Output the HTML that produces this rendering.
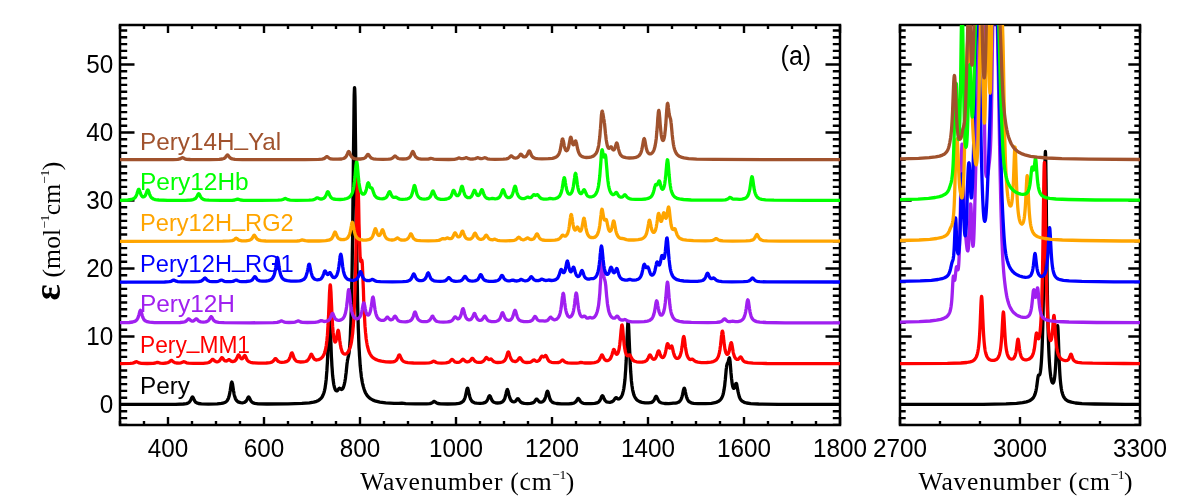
<!DOCTYPE html>
<html><head><meta charset="utf-8"><title>spectra</title>
<style>html,body{margin:0;padding:0;background:#fff}svg{display:block}#w{width:1200px;height:500px;will-change:transform;transform:translateZ(0)}text{font-family:"Liberation Sans",sans-serif;fill:#000}.ser{font-family:"Liberation Serif",serif}</style></head><body>
<div id="w"><svg width="1200" height="500" viewBox="0 0 1200 500">
<defs><clipPath id="cl"><rect x="120" y="25" width="720" height="400"/></clipPath><clipPath id="cr"><rect x="900" y="25" width="240" height="400"/></clipPath></defs>
<path d="M120.00 424.90 L127.20 424.90 M840.00 424.90 L832.80 424.90 M120.00 418.10 L127.20 418.10 M840.00 418.10 L832.80 418.10 M120.00 411.30 L127.20 411.30 M840.00 411.30 L832.80 411.30 M120.00 404.50 L134.50 404.50 M840.00 404.50 L825.50 404.50 M120.00 397.70 L127.20 397.70 M840.00 397.70 L832.80 397.70 M120.00 390.90 L127.20 390.90 M840.00 390.90 L832.80 390.90 M120.00 384.10 L127.20 384.10 M840.00 384.10 L832.80 384.10 M120.00 377.30 L127.20 377.30 M840.00 377.30 L832.80 377.30 M120.00 370.50 L127.20 370.50 M840.00 370.50 L832.80 370.50 M120.00 363.70 L127.20 363.70 M840.00 363.70 L832.80 363.70 M120.00 356.90 L127.20 356.90 M840.00 356.90 L832.80 356.90 M120.00 350.10 L127.20 350.10 M840.00 350.10 L832.80 350.10 M120.00 343.30 L127.20 343.30 M840.00 343.30 L832.80 343.30 M120.00 336.50 L134.50 336.50 M840.00 336.50 L825.50 336.50 M120.00 329.70 L127.20 329.70 M840.00 329.70 L832.80 329.70 M120.00 322.90 L127.20 322.90 M840.00 322.90 L832.80 322.90 M120.00 316.10 L127.20 316.10 M840.00 316.10 L832.80 316.10 M120.00 309.30 L127.20 309.30 M840.00 309.30 L832.80 309.30 M120.00 302.50 L127.20 302.50 M840.00 302.50 L832.80 302.50 M120.00 295.70 L127.20 295.70 M840.00 295.70 L832.80 295.70 M120.00 288.90 L127.20 288.90 M840.00 288.90 L832.80 288.90 M120.00 282.10 L127.20 282.10 M840.00 282.10 L832.80 282.10 M120.00 275.30 L127.20 275.30 M840.00 275.30 L832.80 275.30 M120.00 268.50 L134.50 268.50 M840.00 268.50 L825.50 268.50 M120.00 261.70 L127.20 261.70 M840.00 261.70 L832.80 261.70 M120.00 254.90 L127.20 254.90 M840.00 254.90 L832.80 254.90 M120.00 248.10 L127.20 248.10 M840.00 248.10 L832.80 248.10 M120.00 241.30 L127.20 241.30 M840.00 241.30 L832.80 241.30 M120.00 234.50 L127.20 234.50 M840.00 234.50 L832.80 234.50 M120.00 227.70 L127.20 227.70 M840.00 227.70 L832.80 227.70 M120.00 220.90 L127.20 220.90 M840.00 220.90 L832.80 220.90 M120.00 214.10 L127.20 214.10 M840.00 214.10 L832.80 214.10 M120.00 207.30 L127.20 207.30 M840.00 207.30 L832.80 207.30 M120.00 200.50 L134.50 200.50 M840.00 200.50 L825.50 200.50 M120.00 193.70 L127.20 193.70 M840.00 193.70 L832.80 193.70 M120.00 186.90 L127.20 186.90 M840.00 186.90 L832.80 186.90 M120.00 180.10 L127.20 180.10 M840.00 180.10 L832.80 180.10 M120.00 173.30 L127.20 173.30 M840.00 173.30 L832.80 173.30 M120.00 166.50 L127.20 166.50 M840.00 166.50 L832.80 166.50 M120.00 159.70 L127.20 159.70 M840.00 159.70 L832.80 159.70 M120.00 152.90 L127.20 152.90 M840.00 152.90 L832.80 152.90 M120.00 146.10 L127.20 146.10 M840.00 146.10 L832.80 146.10 M120.00 139.30 L127.20 139.30 M840.00 139.30 L832.80 139.30 M120.00 132.50 L134.50 132.50 M840.00 132.50 L825.50 132.50 M120.00 125.70 L127.20 125.70 M840.00 125.70 L832.80 125.70 M120.00 118.90 L127.20 118.90 M840.00 118.90 L832.80 118.90 M120.00 112.10 L127.20 112.10 M840.00 112.10 L832.80 112.10 M120.00 105.30 L127.20 105.30 M840.00 105.30 L832.80 105.30 M120.00 98.50 L127.20 98.50 M840.00 98.50 L832.80 98.50 M120.00 91.70 L127.20 91.70 M840.00 91.70 L832.80 91.70 M120.00 84.90 L127.20 84.90 M840.00 84.90 L832.80 84.90 M120.00 78.10 L127.20 78.10 M840.00 78.10 L832.80 78.10 M120.00 71.30 L127.20 71.30 M840.00 71.30 L832.80 71.30 M120.00 64.50 L134.50 64.50 M840.00 64.50 L825.50 64.50 M120.00 57.70 L127.20 57.70 M840.00 57.70 L832.80 57.70 M120.00 50.90 L127.20 50.90 M840.00 50.90 L832.80 50.90 M120.00 44.10 L127.20 44.10 M840.00 44.10 L832.80 44.10 M120.00 37.30 L127.20 37.30 M840.00 37.30 L832.80 37.30 M120.00 30.50 L127.20 30.50 M840.00 30.50 L832.80 30.50 M900.00 424.90 L905.70 424.90 M1140.00 424.90 L1134.30 424.90 M900.00 418.10 L905.70 418.10 M1140.00 418.10 L1134.30 418.10 M900.00 411.30 L905.70 411.30 M1140.00 411.30 L1134.30 411.30 M900.00 404.50 L911.70 404.50 M1140.00 404.50 L1128.30 404.50 M900.00 397.70 L905.70 397.70 M1140.00 397.70 L1134.30 397.70 M900.00 390.90 L905.70 390.90 M1140.00 390.90 L1134.30 390.90 M900.00 384.10 L905.70 384.10 M1140.00 384.10 L1134.30 384.10 M900.00 377.30 L905.70 377.30 M1140.00 377.30 L1134.30 377.30 M900.00 370.50 L905.70 370.50 M1140.00 370.50 L1134.30 370.50 M900.00 363.70 L905.70 363.70 M1140.00 363.70 L1134.30 363.70 M900.00 356.90 L905.70 356.90 M1140.00 356.90 L1134.30 356.90 M900.00 350.10 L905.70 350.10 M1140.00 350.10 L1134.30 350.10 M900.00 343.30 L905.70 343.30 M1140.00 343.30 L1134.30 343.30 M900.00 336.50 L911.70 336.50 M1140.00 336.50 L1128.30 336.50 M900.00 329.70 L905.70 329.70 M1140.00 329.70 L1134.30 329.70 M900.00 322.90 L905.70 322.90 M1140.00 322.90 L1134.30 322.90 M900.00 316.10 L905.70 316.10 M1140.00 316.10 L1134.30 316.10 M900.00 309.30 L905.70 309.30 M1140.00 309.30 L1134.30 309.30 M900.00 302.50 L905.70 302.50 M1140.00 302.50 L1134.30 302.50 M900.00 295.70 L905.70 295.70 M1140.00 295.70 L1134.30 295.70 M900.00 288.90 L905.70 288.90 M1140.00 288.90 L1134.30 288.90 M900.00 282.10 L905.70 282.10 M1140.00 282.10 L1134.30 282.10 M900.00 275.30 L905.70 275.30 M1140.00 275.30 L1134.30 275.30 M900.00 268.50 L911.70 268.50 M1140.00 268.50 L1128.30 268.50 M900.00 261.70 L905.70 261.70 M1140.00 261.70 L1134.30 261.70 M900.00 254.90 L905.70 254.90 M1140.00 254.90 L1134.30 254.90 M900.00 248.10 L905.70 248.10 M1140.00 248.10 L1134.30 248.10 M900.00 241.30 L905.70 241.30 M1140.00 241.30 L1134.30 241.30 M900.00 234.50 L905.70 234.50 M1140.00 234.50 L1134.30 234.50 M900.00 227.70 L905.70 227.70 M1140.00 227.70 L1134.30 227.70 M900.00 220.90 L905.70 220.90 M1140.00 220.90 L1134.30 220.90 M900.00 214.10 L905.70 214.10 M1140.00 214.10 L1134.30 214.10 M900.00 207.30 L905.70 207.30 M1140.00 207.30 L1134.30 207.30 M900.00 200.50 L911.70 200.50 M1140.00 200.50 L1128.30 200.50 M900.00 193.70 L905.70 193.70 M1140.00 193.70 L1134.30 193.70 M900.00 186.90 L905.70 186.90 M1140.00 186.90 L1134.30 186.90 M900.00 180.10 L905.70 180.10 M1140.00 180.10 L1134.30 180.10 M900.00 173.30 L905.70 173.30 M1140.00 173.30 L1134.30 173.30 M900.00 166.50 L905.70 166.50 M1140.00 166.50 L1134.30 166.50 M900.00 159.70 L905.70 159.70 M1140.00 159.70 L1134.30 159.70 M900.00 152.90 L905.70 152.90 M1140.00 152.90 L1134.30 152.90 M900.00 146.10 L905.70 146.10 M1140.00 146.10 L1134.30 146.10 M900.00 139.30 L905.70 139.30 M1140.00 139.30 L1134.30 139.30 M900.00 132.50 L911.70 132.50 M1140.00 132.50 L1128.30 132.50 M900.00 125.70 L905.70 125.70 M1140.00 125.70 L1134.30 125.70 M900.00 118.90 L905.70 118.90 M1140.00 118.90 L1134.30 118.90 M900.00 112.10 L905.70 112.10 M1140.00 112.10 L1134.30 112.10 M900.00 105.30 L905.70 105.30 M1140.00 105.30 L1134.30 105.30 M900.00 98.50 L905.70 98.50 M1140.00 98.50 L1134.30 98.50 M900.00 91.70 L905.70 91.70 M1140.00 91.70 L1134.30 91.70 M900.00 84.90 L905.70 84.90 M1140.00 84.90 L1134.30 84.90 M900.00 78.10 L905.70 78.10 M1140.00 78.10 L1134.30 78.10 M900.00 71.30 L905.70 71.30 M1140.00 71.30 L1134.30 71.30 M900.00 64.50 L911.70 64.50 M1140.00 64.50 L1128.30 64.50 M900.00 57.70 L905.70 57.70 M1140.00 57.70 L1134.30 57.70 M900.00 50.90 L905.70 50.90 M1140.00 50.90 L1134.30 50.90 M900.00 44.10 L905.70 44.10 M1140.00 44.10 L1134.30 44.10 M900.00 37.30 L905.70 37.30 M1140.00 37.30 L1134.30 37.30 M900.00 30.50 L905.70 30.50 M1140.00 30.50 L1134.30 30.50 M120.00 425.00 L120.00 421.00 M120.00 25.00 L120.00 29.00 M144.00 425.00 L144.00 421.00 M144.00 25.00 L144.00 29.00 M168.00 425.00 L168.00 417.00 M168.00 25.00 L168.00 33.00 M192.00 425.00 L192.00 421.00 M192.00 25.00 L192.00 29.00 M216.00 425.00 L216.00 421.00 M216.00 25.00 L216.00 29.00 M240.00 425.00 L240.00 421.00 M240.00 25.00 L240.00 29.00 M264.00 425.00 L264.00 417.00 M264.00 25.00 L264.00 33.00 M288.00 425.00 L288.00 421.00 M288.00 25.00 L288.00 29.00 M312.00 425.00 L312.00 421.00 M312.00 25.00 L312.00 29.00 M336.00 425.00 L336.00 421.00 M336.00 25.00 L336.00 29.00 M360.00 425.00 L360.00 417.00 M360.00 25.00 L360.00 33.00 M384.00 425.00 L384.00 421.00 M384.00 25.00 L384.00 29.00 M408.00 425.00 L408.00 421.00 M408.00 25.00 L408.00 29.00 M432.00 425.00 L432.00 421.00 M432.00 25.00 L432.00 29.00 M456.00 425.00 L456.00 417.00 M456.00 25.00 L456.00 33.00 M480.00 425.00 L480.00 421.00 M480.00 25.00 L480.00 29.00 M504.00 425.00 L504.00 421.00 M504.00 25.00 L504.00 29.00 M528.00 425.00 L528.00 421.00 M528.00 25.00 L528.00 29.00 M552.00 425.00 L552.00 417.00 M552.00 25.00 L552.00 33.00 M576.00 425.00 L576.00 421.00 M576.00 25.00 L576.00 29.00 M600.00 425.00 L600.00 421.00 M600.00 25.00 L600.00 29.00 M624.00 425.00 L624.00 421.00 M624.00 25.00 L624.00 29.00 M648.00 425.00 L648.00 417.00 M648.00 25.00 L648.00 33.00 M672.00 425.00 L672.00 421.00 M672.00 25.00 L672.00 29.00 M696.00 425.00 L696.00 421.00 M696.00 25.00 L696.00 29.00 M720.00 425.00 L720.00 421.00 M720.00 25.00 L720.00 29.00 M744.00 425.00 L744.00 417.00 M744.00 25.00 L744.00 33.00 M768.00 425.00 L768.00 421.00 M768.00 25.00 L768.00 29.00 M792.00 425.00 L792.00 421.00 M792.00 25.00 L792.00 29.00 M816.00 425.00 L816.00 421.00 M816.00 25.00 L816.00 29.00 M840.00 425.00 L840.00 417.00 M840.00 25.00 L840.00 33.00 M900.00 425.00 L900.00 417.00 M900.00 25.00 L900.00 33.00 M940.00 425.00 L940.00 421.00 M940.00 25.00 L940.00 29.00 M980.00 425.00 L980.00 421.00 M980.00 25.00 L980.00 29.00 M1020.00 425.00 L1020.00 417.00 M1020.00 25.00 L1020.00 33.00 M1060.00 425.00 L1060.00 421.00 M1060.00 25.00 L1060.00 29.00 M1100.00 425.00 L1100.00 421.00 M1100.00 25.00 L1100.00 29.00 M1140.00 425.00 L1140.00 417.00 M1140.00 25.00 L1140.00 33.00" stroke="#000" stroke-width="2.4" fill="none"/>
<rect x="120" y="25" width="720" height="400" fill="none" stroke="#000" stroke-width="2.5"/>
<rect x="900" y="25" width="240" height="400" fill="none" stroke="#000" stroke-width="2.5"/>
<path clip-path="url(#cl)" d="M120.0 404.4L175.4 404.3L183.4 404.0L186.5 403.6L188.2 403.0L189.1 402.3L189.8 401.5L190.6 400.4L191.8 397.8L192.0 397.4L192.2 397.1L192.5 397.0L192.7 397.1L193.0 397.4L193.4 398.3L194.4 400.4L195.1 401.5L195.8 402.3L196.8 402.9L198.5 403.5L201.4 403.9L208.3 404.1L217.2 403.9L221.5 403.4L223.9 402.8L225.4 402.2L226.6 401.3L227.3 400.4L228.0 399.2L228.5 398.1L229.0 396.6L229.2 395.7L229.4 394.7L229.7 393.5L229.9 392.2L230.2 390.8L230.9 385.9L231.1 384.4L231.4 383.2L231.6 382.4L231.8 382.1L232.1 382.3L232.3 383.2L232.6 384.4L232.8 385.9L233.5 390.7L233.8 392.2L234.0 393.5L234.2 394.6L234.5 395.7L235.0 397.3L235.4 398.6L235.9 399.5L236.6 400.6L237.6 401.5L238.8 402.2L240.5 402.7L242.4 402.8L244.1 402.5L245.0 402.0L245.8 401.4L246.5 400.5L247.2 399.2L247.9 397.7L248.2 397.3L248.4 397.1L248.6 397.0L248.9 397.1L249.1 397.4L249.6 398.3L250.6 400.3L251.3 401.4L252.0 402.1L253.2 402.9L254.9 403.4L258.2 403.8L266.9 404.0L288.0 403.9L301.9 403.4L309.4 402.8L313.7 402.1L316.6 401.3L318.5 400.4L319.9 399.4L321.1 398.3L322.1 397.0L322.8 395.6L323.5 393.9L324.0 392.5L324.5 390.6L324.7 389.6L325.0 388.4L325.2 387.0L325.4 385.5L325.7 383.8L325.9 381.8L326.2 379.5L326.4 377.0L326.6 374.0L326.9 370.7L327.1 366.8L327.4 362.5L327.6 357.6L327.8 352.2L328.1 346.3L328.6 334.1L328.8 328.4L329.0 323.7L329.3 320.6L329.5 319.5L329.8 320.5L330.0 323.5L330.2 328.1L330.5 333.6L331.0 345.6L331.2 351.4L331.4 356.7L331.7 361.4L331.9 365.6L332.2 369.3L332.4 372.5L332.6 375.3L332.9 377.7L333.1 379.8L333.4 381.7L333.6 383.2L333.8 384.6L334.1 385.8L334.3 386.8L334.6 387.6L335.0 389.0L335.5 390.0L336.0 390.6L336.5 390.9L337.0 390.9L337.4 390.6L338.2 389.7L338.9 388.6L339.4 388.2L339.8 388.3L341.0 389.3L341.5 389.5L342.0 389.3L342.5 388.9L343.0 388.2L343.4 387.1L343.9 385.7L344.4 383.9L344.6 382.8L344.9 381.6L345.1 380.2L345.4 378.7L345.6 376.9L345.8 375.0L346.1 373.0L347.0 364.0L347.3 362.0L347.5 360.3L347.8 358.9L348.0 357.8L348.5 355.8L348.7 354.6L349.0 353.2L349.2 351.4L349.4 349.2L349.7 346.5L349.9 343.1L350.2 339.1L350.4 334.4L350.6 328.8L350.9 322.4L351.1 314.8L351.4 306.1L351.6 295.9L351.8 284.2L352.1 270.7L352.3 255.3L352.6 237.9L352.8 218.3L353.0 196.8L353.3 174.0L353.5 150.6L353.8 128.3L354.0 109.0L354.2 94.8L354.5 87.6L354.7 88.5L355.0 97.4L355.2 113.0L355.4 133.4L355.7 156.3L355.9 179.8L356.2 202.7L356.4 224.1L356.6 243.5L356.9 260.8L357.1 276.2L357.4 289.6L357.6 301.4L357.8 311.7L358.1 320.6L358.3 328.5L358.6 335.4L358.8 341.5L359.0 346.8L359.3 351.5L359.5 355.7L359.8 359.5L360.0 362.8L360.2 365.8L360.5 368.5L360.7 371.0L361.0 373.2L361.2 375.1L361.4 377.0L361.7 378.6L361.9 380.1L362.4 382.8L362.9 385.0L363.4 386.9L364.1 389.3L364.8 391.3L365.5 392.8L366.5 394.5L367.7 396.2L369.1 397.7L370.8 398.9L373.0 400.1L375.8 401.2L379.9 402.1L385.7 402.9L394.1 403.4L398.9 403.4L401.8 403.1L405.6 403.7L415.2 403.9L426.5 403.9L429.8 403.6L431.5 403.1L432.7 402.4L433.7 401.6L434.2 401.4L434.6 401.5L436.6 402.9L438.0 403.5L440.6 403.9L447.6 404.0L455.3 403.8L458.9 403.3L460.8 402.8L462.2 402.0L463.2 401.2L463.9 400.2L464.4 399.3L464.9 398.0L465.4 396.5L465.8 394.5L466.8 389.9L467.0 389.0L467.3 388.4L467.5 388.2L467.8 388.4L468.0 389.0L468.2 389.9L468.7 392.1L469.2 394.5L469.7 396.4L470.2 398.0L470.6 399.2L471.4 400.5L472.1 401.4L473.0 402.1L474.5 402.8L476.6 403.2L480.0 403.4L482.9 403.2L484.6 402.7L485.8 402.1L486.5 401.4L487.2 400.4L487.9 398.9L488.9 396.5L489.1 396.1L489.4 395.8L489.6 395.7L489.8 395.8L490.1 396.1L490.6 397.1L491.5 399.4L492.2 400.7L493.0 401.6L493.9 402.3L495.4 402.8L497.5 403.0L499.7 402.9L501.4 402.4L502.6 401.7L503.3 401.0L504.0 400.0L504.5 399.0L505.0 397.8L505.4 396.2L505.9 394.2L506.6 391.1L506.9 390.3L507.1 389.7L507.4 389.5L507.6 389.7L507.8 390.3L508.1 391.1L509.0 395.2L509.5 396.9L510.0 398.3L510.5 399.4L511.2 400.5L511.9 401.2L512.9 401.7L513.8 401.8L514.8 401.6L515.5 401.2L516.2 400.4L517.4 398.9L517.9 398.7L518.4 399.0L520.1 401.4L521.0 402.3L522.2 402.9L524.2 403.4L527.5 403.6L530.6 403.4L532.6 402.9L533.8 402.3L534.7 401.3L536.2 399.3L536.6 399.1L537.1 399.3L538.8 401.3L539.5 401.8L540.5 402.1L541.7 402.1L542.6 401.7L543.6 401.0L544.3 400.0L544.8 399.1L545.3 397.9L545.8 396.4L546.7 392.7L547.0 392.0L547.2 391.5L547.4 391.2L547.7 391.4L547.9 391.8L548.2 392.5L548.6 394.3L549.4 397.0L549.8 398.5L550.3 399.6L551.0 400.9L551.8 401.7L552.7 402.4L554.2 403.0L556.6 403.5L561.4 403.9L568.6 403.9L572.2 403.5L573.8 403.1L575.0 402.4L575.8 401.8L576.5 400.8L577.7 398.8L577.9 398.5L578.2 398.4L578.4 398.4L578.6 398.6L579.1 399.2L580.3 401.2L581.0 402.0L582.0 402.7L583.4 403.3L586.1 403.6L590.9 403.7L594.7 403.4L596.9 402.9L598.3 402.2L599.3 401.3L600.0 400.3L600.7 398.9L601.7 396.5L601.9 396.1L602.2 395.8L602.4 395.7L602.6 395.8L602.9 396.0L603.4 397.0L604.3 399.2L605.0 400.4L605.8 401.2L606.7 401.9L608.2 402.2L609.8 402.3L611.5 401.9L612.7 401.3L613.7 400.4L614.6 399.1L615.4 398.1L615.8 397.7L616.3 397.7L617.8 398.8L618.5 399.0L619.2 398.8L619.9 398.4L620.6 397.7L621.4 396.6L622.1 395.1L622.6 393.8L623.0 392.1L623.3 391.1L623.5 390.0L623.8 388.8L624.0 387.3L624.2 385.7L624.5 383.8L624.7 381.7L625.0 379.3L625.2 376.5L625.4 373.3L625.7 369.6L625.9 365.4L626.2 360.7L626.4 355.5L626.6 349.8L627.1 337.7L627.4 332.0L627.6 327.1L627.8 323.7L628.1 322.3L628.3 322.9L628.6 325.6L628.8 329.9L629.0 335.4L629.5 347.5L629.8 353.3L630.0 358.8L630.2 363.7L630.5 368.1L630.7 372.0L631.0 375.3L631.2 378.3L631.4 380.9L631.7 383.2L631.9 385.2L632.2 386.9L632.4 388.4L632.6 389.8L632.9 391.0L633.4 393.0L633.8 394.6L634.3 395.9L635.0 397.4L635.8 398.5L636.7 399.7L637.9 400.6L639.6 401.6L642.0 402.3L645.1 402.8L648.5 402.9L650.6 402.7L652.1 402.1L653.0 401.4L653.8 400.5L654.5 399.2L655.4 397.1L655.7 396.7L655.9 396.4L656.2 396.3L656.4 396.4L656.6 396.7L657.1 397.7L658.1 399.8L658.8 401.0L659.5 401.8L660.5 402.5L661.9 403.0L664.6 403.5L668.6 403.6L671.5 403.3L673.2 403.1L675.6 403.1L677.5 402.6L679.0 401.9L679.9 401.1L680.6 400.1L681.1 399.2L681.6 398.0L682.1 396.4L682.6 394.4L683.5 389.9L683.8 389.0L684.0 388.4L684.2 388.2L684.5 388.4L684.7 389.0L685.0 389.9L685.4 392.1L685.9 394.4L686.4 396.4L686.9 398.0L687.4 399.2L688.1 400.5L688.8 401.4L689.8 402.1L691.2 402.8L693.6 403.3L697.9 403.7L705.4 403.7L711.4 403.3L715.0 402.7L717.4 401.9L719.0 401.0L720.2 400.0L721.2 398.8L721.9 397.5L722.4 396.4L722.9 395.0L723.4 393.2L723.6 392.2L723.8 391.0L724.1 389.6L724.3 388.0L724.6 386.3L724.8 384.3L725.0 382.1L725.3 379.7L726.0 371.9L726.2 369.5L726.5 367.4L726.7 365.7L727.0 364.6L727.2 363.8L727.9 362.4L728.2 361.8L728.4 360.8L728.9 358.8L729.1 358.0L729.4 357.8L729.6 358.3L729.8 359.5L730.1 361.5L730.3 364.1L731.0 373.0L731.3 375.8L731.5 378.2L731.8 380.4L732.0 382.3L732.2 383.9L732.5 385.3L732.7 386.4L733.0 387.2L733.2 387.8L733.4 388.2L733.7 388.4L733.9 388.4L734.2 388.3L734.4 387.9L734.6 387.4L735.1 385.9L735.6 384.3L735.8 383.7L736.1 383.4L736.3 383.4L736.6 383.9L736.8 384.7L737.0 385.9L738.0 391.4L738.5 393.7L739.0 395.6L739.4 397.0L739.9 398.2L740.6 399.5L741.4 400.4L742.6 401.4L744.2 402.3L746.6 403.0L750.7 403.6L758.6 404.0L778.6 404.3L840.0 404.4" fill="none" stroke="#000000" stroke-width="3.3" stroke-linejoin="round"/>
<path clip-path="url(#cr)" d="M900.0 404.4L983.0 404.3L1006.0 403.9L1016.6 403.4L1022.6 402.7L1026.4 401.9L1029.0 401.0L1030.8 400.0L1032.2 398.9L1033.2 397.8L1034.0 396.5L1034.6 395.3L1035.2 393.7L1035.6 392.3L1036.0 390.6L1036.4 388.5L1036.6 387.3L1037.0 384.5L1037.6 379.8L1037.8 378.3L1038.0 377.1L1038.2 376.1L1038.4 375.5L1038.6 375.1L1039.0 375.0L1039.4 375.0L1039.6 374.8L1039.8 374.4L1040.0 373.7L1040.2 372.8L1040.4 371.7L1040.6 370.3L1040.8 368.5L1041.0 366.5L1041.2 364.1L1041.4 361.3L1041.6 358.0L1041.8 354.3L1042.0 350.0L1042.2 345.1L1042.4 339.4L1042.6 332.9L1042.8 325.4L1043.0 316.8L1043.2 306.8L1043.4 295.4L1043.6 282.4L1043.8 267.7L1044.0 251.3L1044.2 233.5L1044.6 196.1L1044.8 178.7L1045.0 164.4L1045.2 154.9L1045.4 151.5L1045.6 154.9L1045.8 164.4L1046.0 178.7L1046.2 196.1L1046.6 233.5L1046.8 251.3L1047.0 267.6L1047.2 282.3L1047.4 295.4L1047.6 306.8L1047.8 316.8L1048.0 325.4L1048.2 333.0L1048.4 339.6L1048.6 345.3L1048.8 350.3L1049.0 354.7L1049.2 358.5L1049.4 361.9L1049.6 364.9L1049.8 367.5L1050.0 369.8L1050.2 371.9L1050.4 373.7L1050.6 375.3L1050.8 376.7L1051.0 377.9L1051.2 379.0L1051.4 379.9L1051.6 380.7L1052.0 382.0L1052.4 382.7L1052.8 383.0L1053.0 383.0L1053.2 382.9L1053.4 382.6L1053.6 382.2L1053.8 381.7L1054.0 381.0L1054.2 380.1L1054.4 378.9L1054.6 377.6L1054.8 376.0L1055.0 374.1L1055.2 371.8L1055.4 369.1L1055.6 366.0L1055.8 362.4L1056.0 358.3L1056.2 353.7L1056.4 348.7L1056.8 338.1L1057.0 333.1L1057.2 329.1L1057.4 326.4L1057.6 325.6L1057.8 326.8L1058.0 329.7L1058.2 334.1L1058.4 339.3L1058.8 350.6L1059.0 356.0L1059.2 361.0L1059.4 365.4L1059.6 369.4L1059.8 372.9L1060.0 375.9L1060.2 378.6L1060.4 380.9L1060.6 383.0L1060.8 384.8L1061.0 386.3L1061.2 387.7L1061.4 389.0L1061.8 391.1L1062.2 392.8L1062.6 394.1L1063.2 395.7L1063.8 397.0L1064.6 398.2L1065.6 399.4L1067.0 400.5L1068.8 401.4L1071.4 402.2L1075.4 403.0L1082.0 403.6L1094.6 404.0L1125.2 404.3L1140.0 404.4" fill="none" stroke="#000000" stroke-width="3.3" stroke-linejoin="round"/>
<path clip-path="url(#cl)" d="M120.0 363.6L130.1 363.4L132.7 363.1L134.2 362.7L135.8 361.8L136.6 361.7L137.8 362.3L139.2 362.9L141.4 363.3L147.1 363.5L153.1 363.3L155.3 363.0L157.2 362.4L158.2 362.5L160.3 363.1L163.2 363.3L166.3 363.0L168.0 362.6L169.2 362.0L170.9 360.5L171.4 360.3L171.8 360.5L173.5 361.9L174.7 362.6L176.4 363.0L179.0 363.1L181.0 362.8L182.4 362.2L183.6 361.7L184.3 361.8L186.5 362.8L188.4 363.2L193.4 363.4L203.3 363.3L207.1 362.9L208.8 362.5L210.0 361.8L211.0 360.9L212.2 359.5L212.6 359.3L213.1 359.4L214.8 361.1L215.8 361.6L217.0 361.8L218.2 361.6L219.1 361.1L219.8 360.4L220.8 358.9L221.5 357.9L221.8 357.7L222.0 357.6L222.2 357.6L222.7 358.1L223.9 359.9L224.6 360.6L225.4 360.9L226.3 361.0L227.3 360.6L228.5 359.7L229.0 359.6L229.4 359.8L231.1 361.1L232.1 361.5L233.3 361.5L234.5 361.1L235.4 360.4L236.2 359.4L236.9 358.1L237.8 355.8L238.1 355.3L238.3 355.0L238.6 354.9L238.8 354.9L239.0 355.2L239.5 356.0L240.2 357.4L240.7 358.1L241.2 358.6L241.7 358.8L242.2 358.7L242.6 358.4L243.4 357.4L244.1 356.1L244.3 355.8L244.6 355.6L244.8 355.5L245.0 355.7L245.3 356.0L245.8 357.0L246.7 359.1L247.4 360.3L248.2 361.1L249.1 361.8L250.6 362.3L253.2 362.8L258.7 363.1L266.4 363.0L270.0 362.6L271.7 362.2L272.9 361.4L273.8 360.4L275.0 358.8L275.5 358.6L276.0 358.8L277.7 360.9L278.6 361.6L279.8 362.1L281.8 362.4L284.4 362.2L286.3 361.7L287.5 361.1L288.5 360.2L289.2 359.1L289.7 358.1L290.2 356.8L291.1 353.9L291.4 353.3L291.6 353.0L291.8 352.8L292.1 352.9L292.3 353.3L292.6 353.9L293.8 357.4L294.2 358.5L295.0 359.7L295.7 360.5L296.6 361.2L298.1 361.7L300.5 362.0L303.4 361.9L305.5 361.5L307.0 360.9L307.9 360.1L308.6 359.2L309.4 357.9L310.6 355.1L310.8 354.6L311.0 354.3L311.3 354.2L311.5 354.3L311.8 354.5L312.2 355.4L313.2 357.5L313.9 358.6L314.6 359.3L315.6 359.8L316.8 360.0L318.5 359.7L319.9 359.1L321.1 358.4L322.3 357.2L323.0 356.2L323.8 354.9L324.5 353.1L325.0 351.6L325.4 349.8L325.7 348.7L325.9 347.4L326.2 346.0L326.4 344.4L326.6 342.6L326.9 340.5L327.1 338.1L327.4 335.4L327.6 332.3L327.8 328.7L328.1 324.7L328.3 320.2L328.6 315.2L328.8 309.8L329.3 298.4L329.5 293.2L329.8 288.8L330.0 285.9L330.2 284.8L330.5 285.7L330.7 288.4L331.0 292.5L331.2 297.5L331.7 308.4L331.9 313.5L332.2 318.3L332.4 322.5L332.6 326.2L332.9 329.4L333.1 332.2L333.4 334.5L333.6 336.4L333.8 338.1L334.1 339.4L334.3 340.4L334.6 341.1L334.8 341.7L335.0 342.0L335.3 342.0L335.5 341.8L335.8 341.4L336.0 340.8L336.2 339.9L336.5 338.8L336.7 337.5L337.4 332.9L337.7 331.6L337.9 330.7L338.2 330.3L338.4 330.6L338.6 331.5L338.9 333.0L339.1 334.8L339.8 340.8L340.1 342.6L340.3 344.3L340.6 345.7L340.8 347.0L341.0 348.2L341.3 349.1L341.8 350.7L342.2 351.9L342.7 352.7L343.4 353.6L344.2 354.0L345.1 354.2L346.1 353.9L347.0 353.2L348.0 352.1L348.7 350.9L349.4 349.4L349.9 348.0L350.4 346.5L350.9 344.6L351.4 342.2L351.6 340.9L351.8 339.4L352.1 337.8L352.3 335.9L352.6 333.8L352.8 331.5L353.0 328.9L353.3 326.0L353.5 322.7L353.8 318.9L354.0 314.6L354.2 309.8L354.5 304.2L354.7 297.8L355.0 290.5L355.2 282.2L355.4 272.8L355.7 262.2L355.9 250.5L356.2 237.7L356.6 211.0L356.9 198.4L357.1 187.9L357.4 180.6L357.6 177.4L357.8 178.5L358.1 183.7L358.3 192.0L358.6 202.1L358.8 213.0L359.0 223.7L359.3 233.5L359.5 241.9L359.8 248.9L360.0 254.2L360.2 258.0L360.5 260.4L360.7 261.5L361.0 261.6L361.2 261.1L361.4 260.4L361.7 260.0L361.9 260.5L362.2 262.4L362.4 265.8L362.6 270.6L362.9 276.5L363.1 283.1L363.4 289.9L363.6 296.5L363.8 302.8L364.1 308.6L364.3 313.8L364.6 318.4L364.8 322.5L365.0 326.2L365.3 329.4L365.5 332.2L365.8 334.8L366.0 337.0L366.2 339.0L366.5 340.8L366.7 342.3L367.0 343.8L367.2 345.1L367.7 347.3L368.2 349.1L368.6 350.6L369.4 352.5L370.1 354.0L371.0 355.5L372.2 357.0L373.7 358.2L375.6 359.4L378.0 360.3L381.4 361.2L385.9 361.8L390.5 362.0L393.1 361.8L394.8 361.3L395.8 360.7L396.5 360.0L397.2 358.9L397.9 357.4L398.6 355.7L398.9 355.2L399.1 355.0L399.4 354.9L399.6 355.0L399.8 355.3L400.3 356.3L401.3 358.6L402.0 359.9L402.7 360.7L403.7 361.5L405.1 362.1L407.8 362.6L413.5 363.0L424.8 363.1L429.1 362.9L431.0 362.5L432.5 361.7L433.4 361.2L434.2 361.3L436.3 362.5L438.0 362.9L441.6 363.1L445.9 362.9L448.1 362.4L449.3 361.9L450.2 361.1L451.4 359.7L451.9 359.4L452.4 359.5L453.1 360.2L454.1 361.2L455.0 361.9L456.2 362.3L457.9 362.4L459.4 362.1L460.6 361.4L461.5 360.5L462.5 359.5L463.0 359.2L463.4 359.4L465.1 361.0L466.1 361.6L467.3 361.9L468.5 361.7L469.4 361.3L470.2 360.7L471.1 359.4L471.8 358.5L472.3 358.3L472.8 358.5L474.5 360.8L475.4 361.6L476.6 362.1L478.6 362.4L480.7 362.3L482.2 361.9L483.1 361.4L483.8 360.7L484.6 359.7L485.8 357.8L486.0 357.6L486.2 357.4L486.5 357.5L487.0 357.8L487.9 359.0L488.6 359.5L489.4 359.5L490.8 358.9L491.3 359.0L492.0 359.8L493.2 361.1L494.2 361.8L495.6 362.3L497.8 362.5L500.4 362.4L502.3 362.0L503.5 361.4L504.5 360.7L505.2 359.8L505.7 358.9L506.2 357.8L506.6 356.4L507.6 353.1L507.8 352.5L508.1 352.1L508.3 351.9L508.6 352.1L508.8 352.5L509.0 353.1L510.0 356.3L510.5 357.7L511.0 358.8L511.7 359.9L512.4 360.7L513.4 361.2L514.6 361.5L515.8 361.5L516.7 361.1L517.4 360.5L518.2 359.6L519.1 358.1L519.6 357.6L519.8 357.6L520.1 357.7L520.6 358.2L521.8 360.1L522.5 361.0L523.4 361.7L524.9 362.3L527.0 362.5L529.2 362.4L530.6 362.1L531.8 361.4L533.3 360.1L533.8 360.0L534.2 360.0L535.9 361.1L536.9 361.3L537.8 361.1L538.8 360.6L539.5 359.8L540.2 358.6L541.2 356.8L541.7 356.2L542.2 356.2L543.4 357.0L543.8 356.9L544.3 356.6L545.3 355.6L545.5 355.5L545.8 355.5L546.0 355.7L546.5 356.5L547.7 359.2L548.4 360.3L549.1 361.1L550.1 361.8L551.5 362.3L553.9 362.7L556.8 362.7L558.7 362.5L559.9 362.0L560.9 361.2L562.1 360.1L562.6 360.0L563.0 360.1L564.7 361.7L565.9 362.4L567.8 362.9L571.7 363.2L576.7 363.1L578.9 362.8L580.8 362.3L582.7 362.7L585.1 363.0L590.4 363.0L594.5 362.6L596.6 362.0L597.8 361.4L598.8 360.5L599.5 359.5L600.2 358.1L601.2 355.8L601.4 355.3L601.7 355.0L601.9 354.9L602.2 354.9L602.4 355.2L602.9 356.1L603.8 358.2L604.6 359.4L605.3 360.0L606.2 360.5L607.4 360.6L608.6 360.2L609.6 359.5L610.3 358.7L611.0 357.4L611.5 356.2L612.0 354.7L613.0 351.1L613.2 350.3L613.4 349.8L613.7 349.4L613.9 349.4L614.2 349.7L614.4 350.1L615.4 352.7L615.8 353.6L616.3 354.2L616.8 354.3L617.3 354.1L617.8 353.4L618.0 352.9L618.2 352.3L618.5 351.5L618.7 350.6L619.0 349.5L619.2 348.2L619.4 346.7L619.7 345.0L619.9 343.1L620.2 340.8L620.4 338.4L621.1 330.3L621.4 327.9L621.6 326.1L621.8 325.1L622.1 325.0L622.3 325.9L622.6 327.6L622.8 329.9L623.5 338.1L623.8 340.6L624.0 342.9L624.2 345.0L624.5 346.8L624.7 348.4L625.0 349.7L625.2 350.9L625.4 351.9L625.7 352.8L626.2 354.1L626.6 355.0L627.1 355.6L627.6 355.8L628.1 355.7L629.3 354.8L629.5 354.8L629.8 354.9L630.0 355.1L630.5 355.9L631.7 358.4L632.4 359.5L633.4 360.5L634.6 361.2L636.5 361.8L639.4 362.1L642.5 362.0L644.4 361.7L645.8 361.0L646.8 360.3L647.5 359.3L648.2 358.0L649.2 355.7L649.4 355.3L649.7 355.0L649.9 354.9L650.2 354.9L650.4 355.1L650.9 356.0L651.8 357.8L652.6 358.7L653.3 359.2L654.0 359.3L654.7 359.0L655.4 358.3L655.9 357.5L656.4 356.5L656.9 355.2L657.8 352.0L658.1 351.4L658.3 351.0L658.6 350.8L658.8 350.9L659.0 351.2L659.3 351.8L660.2 354.7L660.7 355.8L661.2 356.7L661.7 357.2L662.4 357.5L663.1 357.4L663.6 357.0L664.1 356.3L664.6 355.3L665.0 354.0L665.5 352.2L666.0 349.9L666.7 346.1L667.0 345.0L667.2 344.2L667.4 343.7L667.7 343.6L667.9 343.9L668.2 344.4L668.9 346.7L669.1 347.3L669.4 347.8L669.6 348.1L669.8 348.1L670.1 348.0L670.3 347.8L671.0 346.4L671.3 346.1L671.5 345.9L671.8 346.0L672.0 346.4L672.2 347.1L672.5 348.1L673.4 352.4L673.9 354.1L674.4 355.5L674.9 356.6L675.4 357.3L676.1 358.0L676.8 358.4L677.5 358.4L678.2 358.2L679.0 357.6L679.7 356.5L680.2 355.5L680.6 354.1L680.9 353.2L681.1 352.2L681.4 351.1L681.6 349.8L681.8 348.3L682.1 346.6L682.8 341.0L683.0 339.2L683.3 337.8L683.5 336.8L683.8 336.5L684.0 336.9L684.2 337.8L684.5 339.3L684.7 341.1L685.4 346.8L685.7 348.5L685.9 350.1L686.2 351.4L686.4 352.6L686.6 353.7L687.1 355.4L687.6 356.6L688.1 357.6L688.8 358.6L689.5 359.2L690.2 359.5L691.2 359.4L692.2 359.2L692.9 359.4L694.8 361.1L696.0 361.7L697.9 362.2L701.5 362.6L706.8 362.5L710.9 362.1L713.3 361.6L715.0 360.8L716.2 359.9L717.1 358.8L717.8 357.5L718.3 356.4L718.8 355.0L719.0 354.1L719.3 353.2L719.5 352.0L719.8 350.7L720.0 349.3L720.2 347.6L720.5 345.7L720.7 343.7L721.2 339.1L721.4 336.7L721.7 334.5L721.9 332.7L722.2 331.5L722.4 331.1L722.6 331.4L722.9 332.5L723.1 334.2L723.4 336.3L723.8 340.8L724.1 342.9L724.3 344.8L724.6 346.6L724.8 348.1L725.0 349.4L725.3 350.5L725.5 351.5L725.8 352.3L726.0 352.9L726.5 353.8L727.0 354.3L727.4 354.4L727.9 354.1L728.4 353.3L728.6 352.7L728.9 352.0L729.1 351.2L729.4 350.2L729.8 347.9L730.3 345.3L730.6 344.2L730.8 343.3L731.0 342.7L731.3 342.6L731.5 343.1L731.8 343.9L732.0 345.1L733.0 350.7L733.2 352.0L733.4 353.1L733.7 354.1L734.2 355.7L734.6 356.9L735.1 357.8L735.8 358.7L736.6 359.3L737.3 359.4L738.0 359.3L738.7 358.8L740.2 357.1L740.4 356.9L740.6 356.9L740.9 357.0L741.4 357.6L742.6 359.7L743.3 360.7L744.2 361.5L745.7 362.2L748.1 362.7L753.1 363.1L766.8 363.5L832.8 363.6L840.0 363.6" fill="none" stroke="#ff0000" stroke-width="3.3" stroke-linejoin="round"/>
<path clip-path="url(#cr)" d="M900.0 363.6L947.4 363.4L960.8 363.0L966.8 362.5L970.2 361.9L972.2 361.2L973.6 360.4L974.6 359.5L975.4 358.5L976.0 357.5L976.6 356.2L977.0 355.1L977.4 353.7L977.8 351.9L978.0 350.8L978.2 349.6L978.4 348.3L978.6 346.7L978.8 344.9L979.0 342.9L979.2 340.6L979.4 337.9L979.6 334.8L979.8 331.3L980.0 327.4L980.2 323.0L980.4 318.3L980.8 308.3L981.0 303.6L981.2 299.8L981.4 297.3L981.6 296.4L981.8 297.3L982.0 299.8L982.2 303.6L982.4 308.2L982.8 318.2L983.0 322.9L983.2 327.3L983.4 331.2L983.6 334.7L983.8 337.7L984.0 340.4L984.2 342.7L984.4 344.7L984.6 346.5L984.8 348.0L985.0 349.4L985.2 350.6L985.4 351.6L985.8 353.3L986.2 354.7L986.8 356.3L987.4 357.4L988.2 358.5L989.2 359.4L990.6 360.1L992.2 360.4L994.0 360.4L995.6 359.9L996.8 359.2L997.6 358.3L998.2 357.5L998.8 356.3L999.2 355.2L999.6 353.9L1000.0 352.2L1000.2 351.2L1000.4 350.0L1000.6 348.7L1000.8 347.2L1001.0 345.4L1001.2 343.4L1001.4 341.1L1001.6 338.4L1001.8 335.5L1002.0 332.2L1002.2 328.6L1002.6 321.0L1002.8 317.5L1003.0 314.6L1003.2 312.7L1003.4 312.0L1003.6 312.7L1003.8 314.6L1004.0 317.5L1004.2 321.0L1004.6 328.5L1004.8 332.1L1005.0 335.4L1005.2 338.3L1005.4 341.0L1005.6 343.3L1005.8 345.3L1006.0 347.0L1006.2 348.5L1006.4 349.9L1006.6 351.0L1006.8 352.0L1007.2 353.7L1007.6 355.0L1008.2 356.4L1008.8 357.4L1009.6 358.3L1010.6 358.9L1011.6 359.1L1012.6 358.9L1013.4 358.5L1014.0 357.9L1014.6 356.9L1015.0 356.0L1015.4 354.7L1015.8 353.1L1016.0 352.1L1016.2 350.9L1016.4 349.6L1016.6 348.1L1017.2 343.2L1017.4 341.6L1017.6 340.4L1017.8 339.5L1018.0 339.2L1018.2 339.5L1018.4 340.4L1018.6 341.7L1018.8 343.2L1019.4 348.2L1019.6 349.6L1019.8 351.0L1020.0 352.1L1020.2 353.1L1020.6 354.8L1021.0 356.1L1021.4 357.0L1022.0 358.0L1022.8 358.9L1023.8 359.5L1025.2 359.8L1027.0 359.8L1028.6 359.3L1030.0 358.5L1031.0 357.6L1031.8 356.6L1032.4 355.6L1033.0 354.2L1033.4 352.9L1033.8 351.4L1034.2 349.4L1034.4 348.2L1034.6 346.9L1034.8 345.4L1035.0 343.8L1035.4 340.2L1035.8 336.5L1036.0 335.0L1036.2 333.8L1036.4 333.1L1036.6 332.9L1036.8 333.3L1037.0 334.0L1037.6 336.8L1037.8 337.6L1038.0 338.2L1038.2 338.6L1038.4 338.8L1038.6 338.8L1038.8 338.6L1039.0 338.1L1039.2 337.4L1039.4 336.6L1039.6 335.4L1039.8 334.1L1040.0 332.5L1040.2 330.6L1040.4 328.4L1040.6 325.9L1040.8 323.0L1041.0 319.6L1041.2 315.7L1041.4 311.2L1041.6 306.1L1041.8 300.1L1042.0 293.3L1042.2 285.4L1042.4 276.4L1042.6 266.1L1042.8 254.5L1043.0 241.5L1043.2 227.4L1043.6 197.7L1043.8 184.0L1044.0 172.6L1044.2 165.1L1044.4 162.4L1044.6 165.1L1044.8 172.6L1045.0 183.9L1045.2 197.7L1045.6 227.3L1045.8 241.4L1046.0 254.4L1046.2 266.0L1046.4 276.3L1046.6 285.3L1046.8 293.2L1047.0 300.0L1047.2 306.0L1047.4 311.1L1047.6 315.6L1047.8 319.5L1048.0 322.9L1048.2 325.9L1048.4 328.4L1048.6 330.7L1048.8 332.6L1049.0 334.3L1049.2 335.7L1049.4 337.0L1049.6 338.0L1049.8 338.8L1050.0 339.5L1050.2 340.0L1050.4 340.3L1050.6 340.5L1050.8 340.4L1051.0 340.2L1051.2 339.8L1051.4 339.2L1051.6 338.3L1051.8 337.2L1052.0 335.8L1052.2 334.1L1052.4 332.1L1052.6 329.8L1052.8 327.2L1053.2 321.7L1053.4 319.1L1053.6 317.0L1053.8 315.7L1054.0 315.4L1054.2 316.2L1054.4 318.0L1054.6 320.6L1054.8 323.7L1055.2 330.3L1055.4 333.5L1055.6 336.4L1055.8 339.0L1056.0 341.3L1056.2 343.4L1056.4 345.2L1056.6 346.7L1056.8 348.1L1057.0 349.4L1057.2 350.4L1057.6 352.2L1058.0 353.7L1058.6 355.3L1059.2 356.5L1060.0 357.7L1061.0 358.8L1062.4 359.7L1064.0 360.3L1065.6 360.6L1067.0 360.4L1067.8 360.0L1068.4 359.5L1069.0 358.6L1069.6 357.2L1070.4 355.0L1070.6 354.5L1070.8 354.3L1071.0 354.2L1071.2 354.3L1071.4 354.6L1071.8 355.7L1072.6 358.1L1073.2 359.5L1073.8 360.4L1074.6 361.1L1075.8 361.8L1077.8 362.4L1082.0 362.8L1092.6 363.2L1124.0 363.5L1140.0 363.6" fill="none" stroke="#ff0000" stroke-width="3.3" stroke-linejoin="round"/>
<path clip-path="url(#cl)" d="M120.0 322.7L129.1 322.5L132.7 322.0L134.6 321.4L135.8 320.8L136.8 319.8L137.5 318.7L138.0 317.7L138.5 316.4L139.0 314.7L139.7 312.0L139.9 311.2L140.2 310.6L140.4 310.3L140.6 310.4L140.9 310.7L141.1 311.3L141.6 313.1L142.3 315.7L142.8 317.2L143.3 318.3L144.0 319.6L144.7 320.4L145.7 321.1L147.1 321.7L149.5 322.2L154.6 322.6L169.0 322.7L180.0 322.5L183.4 322.2L185.0 321.7L186.2 321.0L187.2 320.1L188.2 319.0L188.6 318.8L189.1 319.0L190.8 320.5L191.8 321.0L192.7 321.1L193.7 320.8L194.6 320.1L195.8 319.0L196.3 318.8L196.8 319.0L198.5 320.8L199.4 321.4L200.9 321.9L203.3 322.1L205.7 321.9L207.1 321.4L208.1 320.8L208.8 320.1L209.5 319.0L210.5 317.3L211.0 316.7L211.2 316.6L211.4 316.7L211.9 317.3L213.1 319.5L213.8 320.4L214.8 321.2L216.2 321.9L218.6 322.4L224.2 322.7L249.8 322.8L273.4 322.7L277.2 322.4L278.9 321.9L281.0 320.9L281.8 320.9L283.7 321.9L285.4 322.3L289.0 322.5L293.3 322.4L295.2 322.1L296.6 321.4L297.8 320.9L298.6 320.9L300.7 322.0L302.6 322.3L307.4 322.5L314.9 322.3L317.8 321.9L319.2 321.4L320.9 320.6L321.6 320.6L323.5 321.3L325.0 321.5L326.6 321.2L328.1 320.6L329.0 319.9L329.8 319.0L330.5 317.7L331.2 315.9L331.7 314.6L331.9 314.0L332.2 313.6L332.4 313.4L332.6 313.4L332.9 313.6L333.1 314.0L334.3 317.0L335.0 318.4L335.8 319.3L336.7 319.9L337.9 320.3L339.4 320.3L340.8 319.9L342.0 319.3L343.0 318.4L343.7 317.5L344.4 316.2L344.9 314.9L345.4 313.3L345.6 312.4L345.8 311.2L346.1 310.0L346.3 308.5L346.6 306.8L346.8 305.0L347.0 302.9L347.3 300.6L347.8 295.8L348.0 293.5L348.2 291.6L348.5 290.2L348.7 289.6L349.0 289.8L349.2 290.9L349.4 292.6L349.7 294.7L350.4 301.8L350.6 304.0L350.9 305.9L351.1 307.6L351.4 309.2L351.6 310.5L351.8 311.6L352.1 312.6L352.6 314.3L353.0 315.5L353.5 316.4L354.2 317.4L355.0 318.1L355.9 318.6L357.1 318.8L358.1 318.5L359.0 317.9L359.8 317.1L360.2 316.3L360.7 315.2L361.2 313.8L361.7 311.9L362.2 309.6L362.9 305.6L363.1 304.4L363.4 303.5L363.6 302.9L363.8 302.9L364.1 303.2L364.3 304.0L364.6 305.1L365.3 308.8L365.8 311.0L366.0 311.9L366.2 312.7L366.7 313.8L367.2 314.6L367.7 315.0L368.2 315.1L368.6 314.9L369.1 314.4L369.6 313.5L369.8 312.9L370.1 312.2L370.3 311.3L370.6 310.3L370.8 309.1L371.0 307.8L371.3 306.3L372.0 301.1L372.2 299.5L372.5 298.2L372.7 297.3L373.0 297.1L373.2 297.4L373.4 298.4L373.7 299.8L373.9 301.5L374.6 306.9L374.9 308.5L375.1 310.0L375.4 311.3L375.6 312.4L375.8 313.4L376.3 315.1L376.8 316.3L377.5 317.7L378.2 318.6L379.2 319.5L380.4 320.1L381.8 320.4L383.3 320.4L384.5 319.9L385.2 319.4L386.2 318.2L386.9 317.3L387.4 317.1L387.8 317.3L389.3 319.0L390.0 319.6L390.7 319.8L391.4 319.8L392.2 319.5L392.9 318.9L393.6 317.8L394.3 316.6L394.8 316.1L395.0 316.1L395.3 316.2L395.8 316.8L397.0 318.9L397.7 319.9L398.6 320.7L399.8 321.3L402.0 321.7L405.4 321.8L408.0 321.5L409.7 321.0L410.9 320.3L411.6 319.6L412.3 318.5L412.8 317.5L413.3 316.3L414.2 313.3L414.5 312.6L414.7 312.2L415.0 312.0L415.2 312.1L415.4 312.4L415.7 313.0L416.9 316.7L417.4 317.9L418.1 319.2L418.8 320.0L419.8 320.7L421.2 321.3L423.4 321.7L426.0 321.7L427.7 321.3L428.9 320.8L429.8 320.0L430.6 319.0L431.8 316.8L432.0 316.4L432.2 316.2L432.5 316.1L432.7 316.2L433.0 316.4L433.4 317.2L434.4 319.0L435.1 320.0L436.1 320.9L437.3 321.5L439.4 321.9L443.3 322.1L447.6 321.9L450.0 321.5L451.4 320.9L452.4 320.2L453.1 319.3L454.6 317.1L455.0 316.8L455.5 316.9L457.0 318.4L457.7 318.8L458.4 318.8L459.1 318.5L459.8 317.6L460.3 316.7L460.8 315.5L461.3 314.0L462.2 310.2L462.5 309.4L462.7 308.9L463.0 308.6L463.2 308.7L463.4 309.2L463.7 309.9L464.2 311.8L464.6 313.7L465.1 315.4L465.6 316.7L466.1 317.7L466.8 318.7L467.5 319.4L468.5 319.8L469.4 319.9L470.4 319.7L471.1 319.2L471.8 318.4L472.6 317.2L473.8 314.3L474.0 313.8L474.2 313.5L474.5 313.4L474.7 313.5L475.0 313.8L475.4 314.9L476.4 317.3L477.1 318.6L477.8 319.5L478.8 320.1L479.8 320.4L481.0 320.2L481.9 319.7L482.6 319.0L483.4 317.9L484.1 316.7L484.6 316.2L484.8 316.1L485.0 316.2L485.5 316.8L486.7 318.9L487.4 319.9L488.4 320.7L489.6 321.2L491.5 321.6L494.2 321.6L496.3 321.3L497.8 320.8L498.7 320.1L499.4 319.3L500.2 318.2L500.6 317.1L501.8 313.7L502.1 313.2L502.3 312.8L502.6 312.7L502.8 312.8L503.0 313.1L503.5 314.3L504.5 316.9L505.0 318.0L505.7 319.0L506.4 319.7L507.4 320.2L508.6 320.4L509.8 320.2L510.7 319.7L511.4 319.1L512.2 318.0L512.6 317.0L513.1 315.7L513.8 313.2L514.3 311.6L514.6 310.9L514.8 310.5L515.0 310.3L515.3 310.5L515.5 310.9L515.8 311.6L516.7 315.1L517.2 316.6L517.7 317.7L518.4 319.0L519.1 319.9L520.1 320.6L521.5 321.2L523.9 321.7L527.3 321.7L529.7 321.4L531.1 320.9L532.1 320.3L532.8 319.5L533.5 318.4L534.5 316.8L534.7 316.5L535.0 316.4L535.2 316.5L535.7 317.0L536.9 318.9L537.6 319.8L538.6 320.5L539.8 320.9L541.2 320.9L542.9 320.9L544.8 321.1L546.2 320.9L547.4 320.4L548.4 319.6L549.4 318.3L550.1 317.4L550.6 317.1L551.0 317.3L552.7 319.1L553.7 319.6L554.6 319.8L555.8 319.5L557.0 318.9L558.0 317.9L558.7 316.8L559.2 315.9L559.7 314.6L560.2 312.9L560.4 311.9L560.6 310.7L560.9 309.3L561.1 307.8L561.4 306.1L561.6 304.2L562.3 297.9L562.6 296.0L562.8 294.5L563.0 293.6L563.3 293.3L563.5 293.8L563.8 295.0L564.0 296.6L564.2 298.6L564.7 302.7L565.0 304.6L565.2 306.4L565.4 308.0L565.7 309.4L565.9 310.6L566.2 311.6L566.4 312.6L566.9 314.0L567.4 315.1L567.8 315.9L568.6 316.6L569.3 317.0L570.0 317.0L570.7 316.7L571.4 316.0L571.9 315.3L572.4 314.4L572.9 313.1L573.1 312.2L573.4 311.3L573.6 310.2L573.8 308.9L574.1 307.5L574.3 305.8L574.6 304.0L575.0 299.9L575.3 297.9L575.5 296.0L575.8 294.4L576.0 293.3L576.2 293.0L576.5 293.3L576.7 294.4L577.0 296.0L577.2 297.9L577.7 302.1L577.9 304.1L578.2 305.9L578.4 307.5L578.6 309.0L578.9 310.3L579.1 311.4L579.4 312.3L579.8 313.9L580.3 315.0L580.8 315.8L581.5 316.6L582.2 316.8L583.0 316.7L584.2 316.1L584.6 316.1L585.4 316.7L586.3 317.7L587.0 318.1L587.8 318.2L588.7 317.9L589.7 317.5L590.4 317.5L591.8 318.0L592.8 317.9L593.8 317.5L594.7 316.7L595.4 315.8L596.2 314.5L596.6 313.4L597.1 312.0L597.6 310.3L597.8 309.2L598.1 308.0L598.3 306.7L598.6 305.1L598.8 303.3L599.0 301.3L599.3 299.0L599.5 296.3L599.8 293.3L600.0 289.9L600.2 286.2L600.5 282.1L601.0 273.5L601.2 269.4L601.4 265.9L601.7 263.3L601.9 262.0L602.2 261.9L602.4 263.0L602.6 264.9L602.9 267.4L603.1 270.0L603.4 272.5L603.6 274.6L603.8 276.3L604.1 277.5L604.3 278.4L604.8 279.9L605.0 280.8L605.3 282.1L605.5 283.8L605.8 286.0L606.0 288.6L606.7 296.6L607.0 299.1L607.2 301.3L607.4 303.4L607.7 305.2L607.9 306.7L608.2 308.1L608.4 309.4L608.6 310.5L609.1 312.3L609.6 313.7L610.1 314.8L610.8 316.1L611.5 317.0L612.5 317.8L613.4 318.2L614.4 318.2L615.1 317.9L616.1 316.9L616.8 316.2L617.3 316.1L617.8 316.4L619.2 318.5L619.9 319.3L620.9 319.9L622.1 320.2L623.3 320.0L624.7 319.5L625.4 319.7L627.4 320.9L629.0 321.5L632.2 321.8L638.6 321.9L644.2 321.7L647.5 321.1L649.4 320.5L650.6 319.8L651.6 319.0L652.3 318.0L653.0 316.7L653.5 315.4L654.0 313.8L654.2 312.9L654.5 311.8L654.7 310.5L655.2 307.7L655.7 304.6L655.9 303.1L656.2 301.9L656.4 301.1L656.6 300.8L656.9 301.0L657.1 301.7L657.4 302.8L657.8 305.5L658.3 308.3L658.6 309.5L658.8 310.6L659.0 311.6L659.3 312.4L659.8 313.6L660.2 314.5L660.7 315.0L661.2 315.2L661.7 315.1L662.2 314.8L662.6 314.2L663.1 313.4L663.6 312.1L663.8 311.3L664.1 310.3L664.3 309.2L664.6 307.9L664.8 306.4L665.0 304.7L665.3 302.7L665.5 300.5L665.8 298.0L666.0 295.3L666.5 289.5L666.7 286.7L667.0 284.4L667.2 282.8L667.4 282.1L667.7 282.4L667.9 283.8L668.2 285.9L668.4 288.6L669.1 297.4L669.4 300.1L669.6 302.5L669.8 304.6L670.1 306.5L670.3 308.2L670.6 309.7L670.8 310.9L671.0 312.1L671.5 313.9L672.0 315.3L672.5 316.4L673.2 317.7L674.2 318.9L675.4 319.9L677.0 320.7L679.4 321.4L683.5 322.0L691.4 322.4L708.0 322.6L716.6 322.4L719.8 322.0L721.2 321.5L722.2 320.9L723.1 320.0L724.1 319.0L724.6 318.8L725.0 319.0L726.7 320.7L727.7 321.3L729.1 321.6L730.8 321.5L732.5 321.2L735.4 321.7L737.8 321.6L739.9 321.2L741.4 320.5L742.3 319.8L743.0 319.1L743.8 318.0L744.2 316.9L744.7 315.6L745.2 313.9L745.4 312.8L745.7 311.6L745.9 310.3L746.2 308.8L746.9 303.8L747.1 302.2L747.4 300.9L747.6 300.1L747.8 299.8L748.1 300.1L748.3 300.9L748.6 302.2L748.8 303.8L749.5 308.8L749.8 310.3L750.0 311.7L750.2 312.9L750.5 313.9L751.0 315.7L751.4 317.0L751.9 318.0L752.6 319.1L753.6 320.1L754.8 320.9L756.7 321.6L759.8 322.1L766.1 322.5L785.0 322.8L840.0 322.8" fill="none" stroke="#a020f0" stroke-width="3.3" stroke-linejoin="round"/>
<path clip-path="url(#cr)" d="M900.0 322.2L919.2 321.7L930.0 321.0L936.6 320.2L940.8 319.4L943.8 318.4L945.8 317.3L947.2 316.3L948.2 315.1L949.0 313.9L949.6 312.6L950.0 311.5L950.4 310.0L950.6 309.1L950.8 308.1L951.0 307.0L951.2 305.6L951.4 304.0L951.6 302.1L951.8 299.8L952.0 297.1L952.2 293.9L952.4 290.3L952.8 282.6L953.0 279.4L953.2 277.1L953.4 276.1L953.6 276.2L953.8 277.1L954.2 279.4L954.4 280.2L954.6 280.5L954.8 280.1L955.0 279.1L955.2 277.5L955.4 275.5L955.8 271.4L956.0 269.6L956.2 268.2L956.4 267.1L956.6 266.7L956.8 266.7L957.0 267.0L957.2 267.6L957.6 269.1L957.8 269.6L958.0 269.7L958.2 269.3L958.4 268.1L958.6 266.2L958.8 263.4L959.0 259.7L959.2 255.0L959.4 249.3L959.6 242.6L959.8 235.0L960.0 226.5L960.2 217.3L960.4 207.5L960.6 197.4L960.8 187.1L961.0 177.0L961.2 167.5L961.4 159.1L961.6 152.1L961.8 147.0L962.0 144.2L962.2 144.1L962.4 146.5L962.6 150.8L962.8 156.6L963.0 163.7L963.2 171.4L963.4 179.3L963.6 187.0L963.8 194.3L964.0 201.1L964.2 207.1L964.4 212.4L964.6 217.0L964.8 221.0L965.0 224.6L965.2 227.8L965.4 230.9L965.6 233.8L965.8 236.5L966.0 239.1L966.2 241.4L966.4 243.5L966.6 245.4L966.8 247.1L967.0 248.5L967.2 249.6L967.4 250.4L967.6 250.8L967.8 250.9L968.0 250.5L968.2 249.5L968.4 247.9L968.6 245.7L968.8 242.7L969.0 238.9L969.2 234.5L969.4 229.5L969.8 218.6L970.0 213.4L970.2 209.0L970.4 205.7L970.6 203.9L970.8 204.1L971.0 206.4L971.2 210.5L971.4 215.6L971.8 227.1L972.0 232.6L972.2 237.3L972.4 241.1L972.6 243.9L972.8 245.6L973.0 246.2L973.2 245.8L973.4 244.3L973.6 241.7L973.8 238.1L974.0 233.5L974.2 227.8L974.4 221.2L974.6 213.9L974.8 206.2L975.4 182.5L975.6 174.7L975.8 167.2L976.0 159.9L976.2 152.8L976.8 131.9L977.0 124.8L977.2 117.4L977.4 109.8L977.6 101.8L977.8 93.6L978.0 85.1L978.4 67.9L978.8 50.4L979.0 42.0L979.2 34.0L979.4 26.7L979.6 20.3L979.8 15.0L983.4 15.0L983.6 29.7L983.8 50.8L984.0 72.7L984.2 94.1L984.4 113.4L984.6 130.1L984.8 143.7L985.0 154.4L985.2 162.3L985.4 167.8L985.6 171.4L985.8 173.6L986.0 174.9L986.2 175.8L986.4 176.4L986.6 176.7L986.8 176.9L987.0 176.8L987.2 176.6L987.4 176.1L987.6 175.4L987.8 174.5L988.0 173.4L988.2 172.1L988.6 169.0L989.0 165.5L989.4 161.8L989.6 159.8L989.8 157.7L990.0 155.2L990.2 152.4L990.4 149.0L990.6 144.7L990.8 139.3L991.0 132.7L991.2 124.6L991.4 115.0L991.6 103.9L991.8 91.3L992.0 77.8L992.2 63.7L992.4 49.8L992.6 36.7L992.8 24.6L993.0 15.0L996.8 15.0L997.0 16.4L997.2 23.0L997.4 30.5L997.6 38.8L997.8 47.8L998.0 57.4L998.2 67.6L998.4 78.3L998.6 89.3L998.8 100.5L999.2 123.3L999.4 134.5L999.6 145.6L999.8 156.2L1000.0 166.5L1000.2 176.3L1000.4 185.5L1000.6 194.3L1000.8 202.6L1001.0 210.3L1001.2 217.5L1001.4 224.2L1001.6 230.4L1001.8 236.2L1002.0 241.5L1002.2 246.3L1002.4 250.8L1002.6 254.9L1002.8 258.6L1003.0 262.0L1003.2 265.1L1003.4 268.0L1003.6 270.6L1003.8 273.0L1004.0 275.3L1004.2 277.3L1004.6 281.1L1005.0 284.5L1005.4 287.7L1005.8 290.5L1006.2 293.1L1006.6 295.4L1007.0 297.4L1007.6 300.0L1008.2 302.1L1008.8 304.0L1009.6 306.1L1010.6 308.2L1011.6 309.9L1012.8 311.6L1014.2 313.1L1016.0 314.6L1018.2 315.9L1020.6 316.8L1023.2 317.4L1025.2 317.4L1026.8 317.1L1028.0 316.5L1028.8 315.7L1029.4 314.9L1030.0 313.7L1030.4 312.6L1030.8 311.2L1031.0 310.3L1031.2 309.3L1031.4 308.2L1031.6 306.9L1031.8 305.4L1032.0 303.8L1032.2 301.9L1032.6 297.8L1033.0 293.6L1033.2 291.8L1033.4 290.5L1033.6 289.9L1033.8 289.8L1034.0 290.4L1034.2 291.4L1034.8 295.1L1035.0 296.1L1035.2 296.9L1035.4 297.3L1035.6 297.3L1035.8 297.0L1036.0 296.4L1036.2 295.4L1036.4 294.2L1037.0 289.8L1037.2 288.6L1037.4 287.9L1037.6 287.9L1037.8 288.7L1038.0 290.1L1038.2 292.0L1038.4 294.2L1038.8 299.0L1039.0 301.2L1039.2 303.3L1039.4 305.1L1039.6 306.8L1039.8 308.2L1040.0 309.5L1040.2 310.6L1040.6 312.5L1041.0 313.9L1041.4 315.1L1042.0 316.3L1042.8 317.5L1043.8 318.5L1045.2 319.4L1047.2 320.2L1050.6 320.9L1056.6 321.5L1069.0 322.0L1096.6 322.5L1140.0 322.7" fill="none" stroke="#a020f0" stroke-width="3.3" stroke-linejoin="round"/>
<path clip-path="url(#cl)" d="M120.0 282.1L164.6 282.0L169.2 281.7L171.1 281.3L172.6 280.5L173.5 280.1L174.2 280.2L176.2 281.2L177.8 281.6L181.7 281.9L193.7 281.9L198.7 281.6L200.9 281.2L202.1 280.6L203.0 279.8L204.5 278.2L205.0 278.0L205.4 278.2L207.1 280.1L208.1 280.7L209.5 281.3L212.2 281.6L216.0 281.6L218.2 281.3L219.6 280.8L220.8 280.1L221.5 280.1L222.7 280.6L224.2 281.3L226.3 281.6L230.4 281.6L232.8 281.4L234.2 280.9L235.7 280.1L236.4 280.1L237.8 280.8L239.3 281.3L241.7 281.6L246.2 281.5L249.4 281.2L251.0 280.7L252.0 280.1L252.7 279.3L253.7 277.9L254.4 276.9L254.6 276.7L254.9 276.7L255.1 276.7L255.6 277.2L256.8 279.0L257.5 279.8L258.5 280.4L259.9 280.9L262.3 281.2L265.9 281.0L268.6 280.6L270.2 280.0L271.4 279.3L272.4 278.3L273.1 277.3L273.6 276.3L274.1 275.1L274.6 273.5L274.8 272.5L275.0 271.4L275.3 270.2L275.5 268.7L275.8 267.2L276.5 261.9L276.7 260.2L277.0 258.8L277.2 257.9L277.4 257.6L277.7 257.9L277.9 258.8L278.2 260.2L278.4 261.8L279.1 267.1L279.4 268.7L279.6 270.2L279.8 271.4L280.1 272.5L280.3 273.5L280.8 275.1L281.3 276.3L282.0 277.7L282.7 278.6L283.7 279.4L285.1 280.2L287.3 280.7L290.9 281.1L295.9 281.2L299.8 280.8L301.9 280.3L303.4 279.6L304.3 278.9L305.0 278.0L305.8 276.8L306.2 275.6L306.7 274.1L307.2 272.1L307.7 269.8L308.2 267.2L308.4 266.0L308.6 265.0L308.9 264.3L309.1 264.1L309.4 264.3L309.6 264.9L309.8 265.9L310.3 268.4L310.8 270.9L311.3 273.1L311.8 274.8L312.2 276.1L312.7 277.0L313.4 278.1L314.4 279.0L315.6 279.5L317.3 279.9L319.0 279.7L320.2 279.3L321.1 278.7L321.8 277.9L322.6 276.7L323.0 275.6L323.8 273.5L324.2 272.1L324.5 271.5L324.7 271.1L325.0 270.9L325.2 270.9L325.4 271.1L325.9 272.1L326.6 273.6L327.1 274.2L327.6 274.5L328.1 274.4L328.6 274.0L329.5 272.7L329.8 272.6L330.0 272.6L330.2 272.7L330.7 273.5L331.7 275.5L332.4 276.6L333.1 277.3L333.8 277.5L334.6 277.5L335.3 277.1L336.0 276.4L336.5 275.7L337.0 274.8L337.4 273.5L337.7 272.7L337.9 271.8L338.2 270.7L338.4 269.5L338.6 268.1L338.9 266.5L339.1 264.8L339.6 260.9L339.8 258.9L340.1 257.1L340.3 255.5L340.6 254.6L340.8 254.2L341.0 254.6L341.3 255.6L341.5 257.1L341.8 259.0L342.5 265.0L342.7 266.8L343.0 268.4L343.2 269.8L343.4 271.1L343.7 272.2L343.9 273.1L344.4 274.7L344.9 275.9L345.6 277.2L346.3 278.1L347.3 279.0L348.7 279.7L350.6 280.2L352.8 280.4L354.7 280.1L355.9 279.6L356.9 278.9L357.6 278.0L358.1 277.2L358.6 276.1L359.3 274.0L359.8 272.6L360.0 272.0L360.2 271.7L360.5 271.6L360.7 271.7L361.0 272.1L361.2 272.6L362.4 276.2L362.9 277.3L363.6 278.5L364.3 279.3L365.3 280.0L366.7 280.5L368.4 280.7L369.8 280.5L371.0 280.0L372.0 279.5L372.7 279.4L373.7 280.0L375.1 280.8L376.8 281.3L380.4 281.6L392.2 281.8L402.7 281.6L406.6 281.3L408.5 280.8L409.7 280.2L410.6 279.4L411.4 278.4L412.1 277.1L413.0 274.8L413.3 274.3L413.5 274.0L413.8 273.9L414.0 274.0L414.2 274.3L414.7 275.3L415.7 277.5L416.4 278.7L417.1 279.5L418.1 280.1L419.5 280.6L421.4 280.6L423.1 280.3L424.3 279.6L425.0 278.9L425.8 277.9L426.5 276.3L427.4 273.8L427.7 273.3L427.9 273.0L428.2 272.8L428.4 273.0L428.6 273.3L429.1 274.4L430.1 277.0L430.8 278.4L431.5 279.3L432.5 280.1L433.9 280.8L436.3 281.2L440.2 281.4L443.3 281.2L445.0 280.8L446.2 280.2L447.1 279.2L448.3 277.8L448.8 277.6L449.3 277.8L451.0 279.7L451.9 280.5L453.4 281.0L455.8 281.3L458.6 281.2L460.6 280.8L461.8 280.2L462.7 279.3L463.4 278.3L464.4 276.7L464.9 276.3L465.1 276.3L465.6 276.7L467.0 278.9L467.8 279.7L468.7 280.4L470.2 280.9L472.3 281.1L474.7 280.9L476.4 280.4L477.4 279.8L478.1 279.1L478.8 278.0L480.0 275.5L480.2 275.0L480.5 274.7L480.7 274.6L481.0 274.7L481.2 274.9L481.7 275.8L482.6 277.8L483.4 279.0L484.1 279.8L485.0 280.4L486.5 280.9L489.1 281.3L493.2 281.4L496.1 281.0L497.8 280.5L498.7 279.9L499.4 279.2L500.2 278.1L501.4 275.8L501.6 275.5L501.8 275.3L502.1 275.3L502.3 275.5L502.8 276.1L504.0 278.4L504.7 279.3L505.7 280.1L506.9 280.6L508.6 280.9L510.2 280.8L512.4 280.1L513.1 280.1L515.3 280.9L517.0 281.0L518.4 280.7L519.6 280.2L520.8 279.5L521.5 279.4L522.5 279.9L523.7 280.5L525.1 280.8L526.8 280.6L528.0 280.2L529.0 279.4L529.7 278.6L530.6 277.2L531.1 276.7L531.4 276.7L531.8 276.9L532.8 278.2L533.5 279.2L534.5 280.0L535.7 280.5L537.4 280.7L538.8 280.5L540.0 280.1L541.4 279.1L542.2 279.1L543.1 279.6L544.3 280.2L545.5 280.5L547.0 280.4L548.6 280.0L551.5 280.5L553.4 280.4L555.1 279.9L556.3 279.3L557.3 278.5L558.0 277.5L558.7 276.1L559.2 274.9L559.9 272.6L560.4 270.9L560.6 270.3L560.9 269.8L561.1 269.5L561.4 269.5L561.6 269.7L562.1 270.6L562.8 272.0L563.3 272.6L563.8 272.7L564.0 272.6L564.2 272.3L564.5 271.9L564.7 271.4L565.0 270.8L565.2 270.0L565.4 269.1L565.7 268.0L566.6 263.0L566.9 261.9L567.1 261.3L567.4 261.0L567.6 261.2L567.8 261.9L568.1 262.8L569.0 267.7L569.3 268.7L569.5 269.6L569.8 270.3L570.0 270.9L570.2 271.3L570.5 271.6L570.7 271.8L571.0 271.8L571.2 271.7L571.4 271.4L571.9 270.6L572.9 268.0L573.1 267.5L573.4 267.2L573.6 267.1L573.8 267.4L574.1 267.9L574.3 268.6L575.3 272.2L575.8 273.7L576.2 274.8L576.7 275.6L577.2 276.1L577.9 276.5L578.6 276.4L579.1 276.0L579.6 275.4L580.1 274.5L580.8 272.7L581.3 271.4L581.5 270.9L581.8 270.6L582.0 270.5L582.2 270.7L582.5 271.1L583.0 272.3L583.7 274.5L584.2 275.8L584.6 276.7L585.4 277.8L586.1 278.4L587.0 278.9L588.2 279.2L589.7 279.0L591.1 278.7L593.0 278.6L594.2 278.2L595.2 277.5L595.9 276.7L596.6 275.5L597.1 274.5L597.6 273.1L598.1 271.4L598.3 270.3L598.6 269.1L598.8 267.6L599.0 266.0L599.3 264.2L599.5 262.2L599.8 259.9L600.2 254.8L600.5 252.2L600.7 249.8L601.0 247.8L601.2 246.5L601.4 246.0L601.7 246.5L601.9 247.7L602.2 249.7L602.4 252.0L602.9 257.1L603.1 259.5L603.4 261.7L603.6 263.7L603.8 265.5L604.1 267.0L604.3 268.3L604.6 269.5L604.8 270.5L605.0 271.3L605.5 272.6L606.0 273.5L606.5 274.1L607.0 274.4L607.4 274.4L607.9 274.2L608.4 273.7L608.9 272.8L609.4 271.5L610.3 268.4L610.6 267.7L610.8 267.3L611.0 267.1L611.3 267.3L611.5 267.6L611.8 268.2L612.7 271.1L613.2 272.2L613.7 272.7L614.2 272.8L614.6 272.5L615.1 271.7L616.1 269.3L616.3 268.8L616.6 268.5L616.8 268.5L617.0 268.7L617.3 269.3L617.5 270.0L618.5 273.5L619.0 275.0L619.4 276.2L620.2 277.5L620.9 278.3L621.8 279.1L623.3 279.7L625.2 280.1L627.1 280.1L629.5 279.4L630.5 279.5L632.4 280.1L634.3 280.2L636.5 279.8L638.2 279.2L639.4 278.3L640.1 277.5L640.8 276.3L641.3 275.3L641.8 273.9L642.2 272.2L642.7 270.0L643.4 266.5L643.7 265.5L643.9 264.8L644.2 264.4L644.4 264.3L644.6 264.6L644.9 265.0L645.6 266.8L645.8 267.3L646.1 267.6L646.3 267.7L646.6 267.7L647.0 267.4L647.5 267.0L647.8 267.0L648.0 267.1L648.2 267.5L648.5 268.0L649.0 269.5L649.7 271.9L650.2 273.2L650.6 274.1L651.1 274.7L651.6 275.0L652.3 275.1L653.0 274.7L653.5 274.1L654.0 273.3L654.5 272.1L655.0 270.4L655.4 268.4L656.2 264.8L656.4 263.7L656.6 262.8L656.9 262.2L657.1 261.9L657.4 262.0L657.6 262.4L658.3 264.1L658.6 264.6L658.8 264.9L659.0 265.1L659.3 265.0L659.5 264.8L659.8 264.3L660.0 263.6L660.2 262.8L660.5 261.7L661.2 258.0L661.4 256.9L661.7 256.0L661.9 255.6L662.2 255.5L662.4 255.8L662.9 256.9L663.1 257.5L663.4 258.0L663.6 258.3L663.8 258.4L664.1 258.1L664.3 257.5L664.6 256.6L664.8 255.3L665.0 253.7L665.3 251.7L665.5 249.4L666.0 244.3L666.2 241.8L666.5 239.7L666.7 238.3L667.0 237.9L667.2 238.4L667.4 240.0L667.7 242.3L667.9 245.2L668.4 251.5L668.6 254.5L668.9 257.3L669.1 259.9L669.4 262.1L669.6 264.1L669.8 265.9L670.1 267.5L670.3 268.8L670.6 270.0L670.8 271.1L671.3 272.8L671.8 274.2L672.5 275.7L673.2 276.8L674.2 277.9L675.4 278.8L677.0 279.7L679.7 280.4L683.8 281.0L690.7 281.4L697.4 281.3L700.8 280.9L702.5 280.5L703.7 279.8L704.4 279.1L705.1 278.1L705.8 276.6L706.8 274.2L707.0 273.7L707.3 273.4L707.5 273.2L707.8 273.3L708.0 273.6L708.5 274.6L709.4 276.8L709.9 277.6L710.6 278.4L711.4 278.7L712.1 278.6L713.3 278.0L713.8 278.0L714.2 278.3L715.9 279.9L717.1 280.7L718.8 281.2L722.2 281.6L731.8 281.8L743.5 281.7L747.1 281.4L748.8 281.0L750.0 280.3L751.0 279.4L751.9 278.3L752.4 278.0L752.9 278.1L753.6 278.9L754.6 280.0L755.5 280.7L757.0 281.3L759.6 281.7L767.0 281.9L840.0 282.0" fill="none" stroke="#0000ff" stroke-width="3.3" stroke-linejoin="round"/>
<path clip-path="url(#cr)" d="M900.0 281.4L920.2 280.9L931.4 280.3L938.0 279.5L942.0 278.7L944.6 277.8L946.4 276.8L947.6 275.7L948.4 274.7L949.0 273.6L949.6 272.2L950.2 270.3L950.6 268.7L951.2 265.9L951.6 264.1L952.0 262.5L952.4 261.4L952.8 260.4L953.0 259.7L953.2 258.8L953.4 257.6L953.6 256.0L953.8 253.9L954.0 251.2L954.2 247.9L954.4 243.9L954.6 239.1L954.8 233.8L955.0 228.2L955.2 223.1L955.4 219.3L955.6 217.9L955.8 219.3L956.0 222.9L956.2 227.9L956.4 233.2L956.6 238.2L956.8 242.4L957.0 245.9L957.2 248.6L957.4 250.7L957.6 252.1L957.8 253.1L958.0 253.6L958.2 253.8L958.4 253.5L958.6 252.9L958.8 251.8L959.0 250.4L959.2 248.5L959.4 246.1L959.6 243.0L959.8 239.2L960.0 234.5L960.2 228.8L960.4 222.2L960.6 214.5L961.0 197.9L961.2 190.1L961.4 183.3L961.6 178.1L961.8 174.8L962.0 173.8L962.2 175.2L962.4 178.7L962.6 183.6L962.8 189.3L963.2 201.5L963.4 207.4L963.6 212.9L963.8 218.1L964.0 222.8L964.2 226.8L964.4 230.1L964.6 232.6L964.8 234.4L965.0 235.5L965.2 235.8L965.4 235.5L965.6 234.5L965.8 232.9L966.0 230.4L966.2 227.2L966.4 223.1L966.6 218.0L966.8 211.9L967.0 205.0L967.4 190.2L967.6 183.5L967.8 177.8L968.0 173.1L968.2 169.4L968.4 166.4L968.6 164.2L968.8 163.0L969.0 162.8L969.2 163.7L969.4 166.0L969.6 169.4L969.8 173.5L970.2 182.5L970.4 186.9L970.6 190.7L970.8 193.8L971.0 196.1L971.2 197.5L971.4 197.9L971.6 197.4L971.8 196.0L972.0 193.7L972.2 190.6L972.4 186.6L972.6 181.9L972.8 176.3L973.0 169.9L973.2 162.7L973.4 154.8L973.6 146.1L973.8 136.7L974.0 126.8L974.2 116.5L974.6 95.2L974.8 84.7L975.0 74.5L975.2 64.7L975.4 55.5L975.6 46.8L975.8 38.9L976.0 31.7L976.2 25.2L976.4 19.4L976.6 15.0L978.4 15.0L978.6 15.4L978.8 21.4L979.0 28.6L979.2 36.9L979.4 46.1L979.6 56.1L979.8 66.9L980.0 78.3L980.2 90.0L980.6 113.6L980.8 125.1L981.0 135.9L981.2 146.0L981.4 155.2L981.6 163.6L981.8 171.2L982.0 178.1L982.2 184.5L982.4 190.4L982.6 195.8L982.8 200.7L983.0 205.0L983.2 208.7L983.4 211.9L983.6 214.6L983.8 216.8L984.0 218.5L984.2 219.7L984.4 220.6L984.6 221.1L984.8 221.3L985.0 221.1L985.2 220.5L985.4 219.6L985.6 218.4L985.8 216.7L986.0 214.6L986.2 212.1L986.4 209.2L986.6 205.9L986.8 202.2L987.0 198.1L987.2 193.8L987.4 189.2L987.6 184.4L987.8 179.4L988.0 174.4L988.4 163.8L988.8 153.0L989.0 147.4L989.2 141.6L989.4 135.7L989.6 129.3L989.8 122.5L990.0 115.2L990.2 107.1L990.4 98.4L990.6 89.1L990.8 79.4L991.2 59.2L991.4 49.3L991.6 40.0L991.8 31.6L992.0 24.1L992.2 17.6L992.4 15.0L997.2 15.0L997.4 17.8L997.6 24.0L997.8 31.1L998.0 38.9L998.2 47.3L998.4 56.1L998.8 74.2L999.0 83.1L999.2 91.7L999.4 100.0L999.6 107.9L999.8 115.6L1000.4 137.9L1000.8 153.1L1001.2 168.4L1001.4 176.0L1001.6 183.2L1001.8 190.0L1002.0 196.1L1002.2 201.5L1002.4 206.3L1002.6 210.7L1002.8 214.8L1003.2 222.5L1003.4 226.2L1003.6 229.6L1003.8 232.9L1004.0 236.0L1004.2 238.9L1004.4 241.4L1004.6 243.8L1004.8 245.9L1005.0 247.8L1005.2 249.5L1005.4 251.0L1005.8 253.7L1006.2 256.0L1006.6 257.9L1007.2 260.4L1007.8 262.4L1008.6 264.7L1009.4 266.5L1010.4 268.4L1011.6 270.2L1013.0 271.8L1014.8 273.4L1017.0 274.8L1019.6 276.0L1022.6 276.9L1025.4 277.3L1027.4 277.2L1028.8 276.8L1029.8 276.2L1030.6 275.5L1031.2 274.6L1031.6 273.7L1032.0 272.6L1032.4 271.2L1032.6 270.3L1032.8 269.3L1033.0 268.2L1033.2 266.8L1033.4 265.4L1033.6 263.7L1034.0 260.0L1034.2 258.1L1034.4 256.3L1034.6 254.9L1034.8 253.9L1035.0 253.5L1035.2 253.9L1035.4 254.9L1035.6 256.3L1035.8 258.1L1036.2 261.9L1036.4 263.7L1036.6 265.4L1036.8 266.9L1037.0 268.2L1037.2 269.3L1037.4 270.4L1037.8 272.0L1038.2 273.2L1038.6 274.2L1039.2 275.1L1040.0 275.9L1041.0 276.4L1042.0 276.4L1043.0 276.0L1043.8 275.3L1044.4 274.5L1045.0 273.4L1045.4 272.4L1045.8 271.0L1046.2 269.3L1046.4 268.3L1046.6 267.1L1046.8 265.7L1047.0 264.1L1047.2 262.3L1047.4 260.2L1047.6 257.8L1047.8 255.1L1048.0 252.0L1048.2 248.6L1048.4 244.9L1048.8 237.0L1049.0 233.4L1049.2 230.4L1049.4 228.4L1049.6 227.7L1049.8 228.4L1050.0 230.5L1050.2 233.5L1050.4 237.2L1050.8 245.1L1051.0 248.9L1051.2 252.3L1051.4 255.4L1051.6 258.2L1051.8 260.6L1052.0 262.8L1052.2 264.6L1052.4 266.2L1052.6 267.6L1052.8 268.9L1053.0 270.0L1053.4 271.8L1053.8 273.2L1054.4 274.8L1055.0 276.0L1055.8 277.1L1056.8 278.1L1058.2 279.0L1060.2 279.7L1063.4 280.4L1069.2 280.9L1081.8 281.4L1114.0 281.8L1140.0 281.9" fill="none" stroke="#0000ff" stroke-width="3.3" stroke-linejoin="round"/>
<path clip-path="url(#cl)" d="M120.0 241.3L222.7 241.2L229.7 240.9L232.1 240.6L233.5 240.1L234.7 239.2L235.7 238.4L236.2 238.2L236.6 238.4L238.6 239.9L239.8 240.4L241.9 240.8L245.8 240.8L248.6 240.4L250.1 240.0L251.0 239.4L251.8 238.7L252.5 237.7L253.7 235.6L253.9 235.3L254.2 235.2L254.4 235.2L254.6 235.4L255.1 236.1L256.1 237.8L256.8 238.8L257.8 239.6L259.0 240.2L261.1 240.7L265.9 241.0L284.6 241.2L296.9 241.0L299.5 240.8L302.2 239.9L303.1 240.1L305.3 240.7L308.4 241.0L319.2 241.0L325.7 240.7L328.6 240.2L330.2 239.6L331.2 239.0L331.9 238.3L332.6 237.2L333.4 235.6L334.3 233.0L334.6 232.5L334.8 232.2L335.0 232.0L335.3 232.2L335.5 232.5L336.0 233.6L337.0 236.0L337.7 237.4L338.4 238.3L339.4 239.0L340.6 239.5L342.5 239.7L344.4 239.5L346.1 239.0L347.3 238.2L348.0 237.4L348.7 236.2L349.2 235.2L349.7 233.7L350.2 231.9L350.4 230.8L350.9 228.3L351.4 225.5L351.6 224.2L351.8 223.2L352.1 222.5L352.3 222.3L352.6 222.5L352.8 223.2L353.0 224.2L353.5 226.9L354.0 229.6L354.5 231.9L355.0 233.8L355.4 235.2L355.9 236.2L356.6 237.4L357.4 238.2L358.6 239.0L360.2 239.7L362.9 240.0L366.0 240.1L368.4 239.7L370.1 239.1L371.0 238.4L371.8 237.7L372.5 236.6L373.0 235.6L373.4 234.2L374.2 231.8L374.6 230.1L374.9 229.4L375.1 228.9L375.4 228.7L375.6 228.8L375.8 229.2L376.1 229.8L377.0 232.8L377.5 234.0L378.0 234.8L378.5 235.3L379.0 235.5L379.4 235.4L379.9 235.0L380.4 234.3L380.9 233.3L381.8 230.7L382.1 230.1L382.3 229.8L382.6 229.7L382.8 229.9L383.0 230.4L383.3 231.0L384.5 234.8L385.0 236.0L385.7 237.3L386.4 238.2L387.4 239.0L388.8 239.6L391.0 240.0L393.1 240.0L394.6 239.6L395.8 239.0L397.0 238.0L397.4 237.9L397.9 238.0L399.8 239.5L401.0 240.0L403.0 240.2L405.1 240.0L406.6 239.5L407.5 238.9L408.2 238.2L409.0 237.1L410.2 234.6L410.4 234.2L410.6 233.9L410.9 233.8L411.1 233.9L411.4 234.2L411.8 235.1L412.8 237.1L413.5 238.3L414.2 239.0L415.4 239.8L417.1 240.3L420.5 240.7L428.4 240.9L435.8 240.7L438.7 240.4L440.2 239.9L442.3 238.6L443.0 238.6L444.5 238.9L445.4 238.8L447.1 237.9L447.8 238.0L449.5 238.7L450.5 238.7L451.4 238.4L452.2 237.7L452.9 236.7L453.6 235.3L454.3 233.7L454.6 233.2L454.8 232.9L455.0 232.8L455.3 232.9L455.5 233.1L456.0 233.9L456.7 235.3L457.4 236.4L458.2 236.9L458.9 236.9L459.6 236.5L460.1 235.9L460.6 235.0L461.3 233.2L461.8 232.0L462.0 231.5L462.2 231.2L462.5 231.1L462.7 231.2L463.0 231.6L463.4 232.8L464.4 235.4L464.9 236.5L465.6 237.6L466.3 238.3L467.3 238.9L468.5 239.2L469.9 239.2L471.1 238.7L471.8 238.2L472.6 237.4L473.3 236.1L474.2 234.0L474.5 233.6L474.7 233.3L475.0 233.1L475.2 233.2L475.4 233.4L475.9 234.3L476.9 236.5L477.6 237.6L478.3 238.4L479.3 239.0L480.5 239.4L481.7 239.3L482.9 238.9L483.6 238.4L484.3 237.6L485.5 235.7L486.0 235.2L486.2 235.2L486.5 235.2L487.0 235.8L488.2 237.7L488.9 238.6L489.8 239.3L491.0 239.7L492.5 239.8L494.6 239.2L495.4 239.4L497.5 240.3L499.9 240.7L505.9 240.8L511.9 240.6L514.3 240.3L515.8 239.7L516.7 239.0L518.2 237.5L518.6 237.2L519.1 237.3L520.1 238.2L521.0 239.1L522.0 239.5L523.2 239.8L524.4 239.6L525.6 239.1L527.0 238.0L527.5 237.9L528.2 238.1L529.7 239.1L530.9 239.5L532.1 239.4L533.3 239.0L534.0 238.4L534.7 237.5L535.4 236.3L536.4 234.3L536.6 234.0L536.9 233.8L537.1 233.8L537.4 234.0L537.8 234.8L538.8 236.8L539.5 238.0L540.2 238.8L541.2 239.4L542.6 240.0L545.3 240.4L550.3 240.4L554.9 240.1L557.5 239.6L559.0 239.0L559.9 238.3L560.9 237.2L562.1 235.5L562.6 235.2L563.0 235.2L564.5 236.1L565.2 236.2L565.9 235.9L566.6 235.2L567.1 234.4L567.6 233.4L568.1 232.0L568.3 231.1L568.6 230.1L568.8 229.0L569.0 227.7L569.3 226.2L569.5 224.5L570.2 219.0L570.5 217.3L570.7 215.8L571.0 214.8L571.2 214.4L571.4 214.7L571.7 215.5L571.9 216.8L572.2 218.4L572.6 221.8L572.9 223.4L573.1 224.8L573.4 226.1L573.6 227.1L573.8 228.0L574.1 228.7L574.3 229.3L574.6 229.7L574.8 229.9L575.0 230.0L575.3 230.0L575.8 229.5L576.2 228.7L577.0 227.3L577.2 227.1L577.4 227.0L577.7 227.2L577.9 227.5L578.4 228.6L579.1 230.2L579.6 230.9L580.1 231.2L580.6 231.0L580.8 230.8L581.0 230.4L581.3 229.8L581.5 229.1L581.8 228.3L582.0 227.3L582.2 226.2L582.7 223.5L583.2 220.7L583.4 219.5L583.7 218.6L583.9 218.2L584.2 218.3L584.4 218.9L584.6 220.0L584.9 221.4L585.6 226.1L585.8 227.5L586.1 228.8L586.3 230.0L586.6 231.0L587.0 232.7L587.5 234.0L588.0 235.0L588.7 236.0L589.7 236.9L590.9 237.5L592.3 237.7L593.8 237.5L595.0 237.1L595.9 236.4L596.6 235.6L597.4 234.5L597.8 233.4L598.3 232.1L598.8 230.4L599.0 229.4L599.3 228.2L599.5 226.8L599.8 225.2L600.0 223.5L600.2 221.6L600.7 217.3L601.0 215.0L601.2 213.0L601.4 211.2L601.7 209.9L601.9 209.3L602.2 209.4L602.4 210.1L602.6 211.3L603.4 216.0L603.6 217.3L603.8 218.5L604.1 219.3L604.3 219.9L604.6 220.2L604.8 220.2L605.0 220.1L605.8 219.3L606.0 219.3L606.2 219.5L606.5 220.1L606.7 220.9L607.0 222.0L607.7 225.7L608.2 227.8L608.4 228.7L608.6 229.4L608.9 230.0L609.4 230.9L609.8 231.3L610.3 231.2L610.8 230.7L611.0 230.3L611.3 229.8L611.5 229.1L611.8 228.2L612.0 227.3L612.5 225.0L613.0 222.7L613.2 221.7L613.4 221.1L613.7 220.9L613.9 221.1L614.2 221.8L614.4 222.8L614.9 225.5L615.4 228.2L615.8 230.6L616.3 232.5L616.8 234.0L617.3 235.1L618.0 236.3L618.7 237.2L619.7 237.9L620.9 238.4L622.3 238.5L623.5 238.6L626.4 239.6L629.0 240.0L633.8 240.0L638.2 239.7L641.0 239.2L642.7 238.5L643.9 237.7L644.9 236.7L645.6 235.6L646.1 234.6L646.6 233.3L647.0 231.5L647.3 230.5L647.5 229.4L648.0 226.7L648.5 223.8L648.7 222.4L649.0 221.3L649.2 220.5L649.4 220.2L649.7 220.4L649.9 221.0L650.2 222.0L650.6 224.4L651.1 226.9L651.4 228.0L651.6 229.0L651.8 229.8L652.1 230.5L652.6 231.6L653.0 232.2L653.5 232.4L654.0 232.3L654.5 232.0L655.0 231.2L655.4 230.1L655.7 229.3L655.9 228.4L656.2 227.4L656.4 226.2L656.6 224.8L656.9 223.3L657.4 219.8L657.8 216.4L658.1 214.9L658.3 213.9L658.6 213.4L658.8 213.4L659.0 214.0L659.3 214.9L660.0 218.5L660.2 219.6L660.5 220.4L660.7 221.0L661.0 221.4L661.2 221.4L661.4 221.3L661.7 220.8L661.9 220.1L662.2 219.2L662.4 218.1L663.1 214.4L663.4 213.5L663.6 212.9L663.8 212.7L664.1 213.0L664.3 213.6L665.0 216.5L665.3 217.3L665.5 217.9L665.8 218.2L666.0 218.3L666.2 218.0L666.5 217.4L666.7 216.6L667.0 215.4L667.2 214.0L667.9 209.1L668.2 207.8L668.4 207.1L668.6 206.9L668.9 207.6L669.1 208.8L669.4 210.6L669.6 212.7L670.1 217.2L670.3 219.3L670.6 221.2L670.8 222.9L671.0 224.4L671.3 225.7L671.5 226.7L671.8 227.6L672.0 228.3L672.2 228.8L672.5 229.2L672.7 229.4L673.2 229.5L673.7 229.2L674.4 228.6L674.6 228.6L674.9 228.7L675.1 229.0L675.4 229.6L675.8 231.0L676.6 233.3L677.0 234.6L677.8 236.0L678.5 237.1L679.4 238.0L680.9 238.9L683.0 239.6L686.6 240.2L693.4 240.7L705.4 240.9L710.6 240.7L712.8 240.3L714.0 239.8L715.7 238.7L716.2 238.6L716.9 238.8L718.6 240.0L720.0 240.5L722.9 240.9L732.5 241.1L745.9 240.9L750.0 240.6L751.9 240.2L753.1 239.7L754.1 238.9L754.8 237.9L755.5 236.6L756.2 235.2L756.5 234.8L756.7 234.6L757.0 234.5L757.2 234.6L757.4 234.8L757.9 235.7L758.9 237.6L759.6 238.6L760.3 239.3L761.5 240.0L763.4 240.6L767.3 240.9L780.0 241.2L840.0 241.2" fill="none" stroke="#ffa500" stroke-width="3.3" stroke-linejoin="round"/>
<path clip-path="url(#cr)" d="M900.0 240.5L919.0 240.0L929.8 239.3L936.6 238.5L940.8 237.7L943.6 236.7L945.6 235.7L947.0 234.6L948.0 233.4L948.6 232.4L949.2 231.1L950.4 228.1L951.6 225.6L952.0 224.5L952.4 223.1L952.6 222.2L952.8 221.1L953.0 219.8L953.2 218.3L953.4 216.5L953.6 214.4L953.8 211.8L954.0 208.7L954.2 205.0L954.4 200.5L954.6 195.2L954.8 189.1L955.0 182.2L955.4 167.3L955.6 160.4L955.8 154.3L956.0 149.2L956.2 145.1L956.4 142.0L956.6 139.9L956.8 138.9L957.0 138.8L957.2 139.9L957.4 142.1L957.6 145.3L957.8 149.3L958.0 153.8L958.2 158.7L958.4 163.8L958.6 168.7L958.8 173.3L959.0 177.4L959.2 180.9L959.4 183.9L959.6 186.3L959.8 188.3L960.0 189.9L960.2 191.2L960.6 193.5L961.0 195.5L961.2 196.4L961.4 197.1L961.6 197.7L961.8 197.9L962.0 197.8L962.2 197.3L962.4 196.3L962.6 194.9L962.8 193.1L963.0 190.7L963.2 187.7L963.4 184.2L963.6 180.0L963.8 175.1L964.0 169.3L964.2 162.7L964.4 155.2L964.6 146.9L964.8 137.9L965.2 119.0L965.4 109.8L965.6 100.8L965.8 92.2L966.0 84.2L966.2 76.7L966.4 69.8L966.6 63.5L966.8 57.8L967.0 52.8L967.2 48.4L967.4 44.7L967.6 41.7L967.8 39.5L968.0 38.0L968.2 37.3L968.4 37.5L968.6 38.6L968.8 40.5L969.0 43.0L969.2 46.1L969.4 49.6L969.6 53.5L969.8 57.7L970.0 62.0L970.2 66.6L970.6 76.2L971.4 96.1L971.8 105.6L972.0 110.2L972.2 114.6L972.6 123.1L972.8 127.2L973.0 131.1L973.2 134.8L973.4 138.3L973.6 141.6L973.8 144.7L974.0 147.7L974.2 150.4L974.4 152.9L974.6 155.2L974.8 157.3L975.0 159.2L975.2 160.9L975.4 162.3L975.6 163.4L975.8 164.2L976.0 164.6L976.2 164.8L976.4 164.5L976.6 163.8L976.8 162.5L977.0 160.8L977.2 158.3L977.4 155.1L977.6 151.1L977.8 146.2L978.0 140.3L978.2 133.5L978.4 125.7L978.6 116.9L978.8 107.5L979.0 97.3L979.2 86.7L979.6 64.7L979.8 53.8L980.0 43.1L980.2 32.9L980.4 23.3L980.6 15.0L982.0 15.0L982.2 18.7L982.4 31.9L982.6 46.3L982.8 60.9L983.0 74.8L983.2 87.5L983.4 98.5L983.6 107.6L983.8 114.5L984.0 119.4L984.2 122.2L984.4 123.1L984.6 122.1L984.8 119.2L985.0 114.2L985.2 107.3L985.4 98.2L985.6 87.3L985.8 74.7L986.0 60.9L986.2 46.6L986.4 32.4L986.6 19.5L986.8 15.0L988.0 15.0L988.2 18.0L988.4 28.3L988.6 39.8L988.8 51.9L989.0 63.5L989.2 73.7L989.4 81.9L989.6 88.0L989.8 91.7L990.0 93.1L990.2 92.2L990.4 89.0L990.6 83.6L990.8 76.1L991.0 66.8L991.2 56.1L991.4 45.0L991.6 34.3L991.8 24.7L992.0 16.5L992.2 15.0L1001.8 15.0L1002.0 16.3L1002.2 19.6L1002.4 23.6L1002.6 28.5L1002.8 34.6L1003.0 42.1L1003.2 50.9L1003.4 61.0L1003.6 72.2L1003.8 84.1L1004.0 96.3L1004.2 108.2L1004.4 119.4L1004.6 129.5L1004.8 138.5L1005.0 146.4L1005.2 153.3L1005.4 159.4L1005.6 164.7L1005.8 169.4L1006.0 173.5L1006.2 177.2L1006.4 180.5L1006.6 183.5L1006.8 186.2L1007.0 188.6L1007.2 190.8L1007.4 192.7L1007.6 194.5L1007.8 196.2L1008.0 197.6L1008.2 199.0L1008.4 200.2L1008.8 202.3L1009.2 203.9L1009.6 205.1L1010.0 205.8L1010.4 206.2L1010.6 206.2L1010.8 206.0L1011.0 205.7L1011.2 205.2L1011.4 204.6L1011.6 203.8L1011.8 202.7L1012.0 201.4L1012.2 199.8L1012.4 197.8L1012.6 195.5L1012.8 192.8L1013.0 189.6L1013.2 185.8L1013.4 181.5L1013.6 176.6L1013.8 171.3L1014.2 160.0L1014.4 154.8L1014.6 150.5L1014.8 147.8L1015.0 147.0L1015.2 148.3L1015.4 151.6L1015.6 156.4L1015.8 162.2L1016.2 174.5L1016.4 180.4L1016.6 185.8L1016.8 190.7L1017.0 195.0L1017.2 198.8L1017.4 202.2L1017.6 205.1L1017.8 207.6L1018.0 209.9L1018.2 211.8L1018.4 213.5L1018.6 215.0L1018.8 216.4L1019.0 217.5L1019.2 218.6L1019.6 220.3L1020.0 221.6L1020.4 222.6L1020.8 223.3L1021.4 224.0L1022.0 224.1L1022.4 223.8L1022.8 223.3L1023.2 222.5L1023.6 221.2L1023.8 220.3L1024.0 219.3L1024.2 218.2L1024.4 216.8L1024.6 215.1L1024.8 213.2L1025.0 211.0L1025.2 208.5L1025.4 205.5L1025.6 202.2L1025.8 198.5L1026.0 194.4L1026.4 185.8L1026.6 181.8L1026.8 178.5L1027.0 176.4L1027.2 175.7L1027.4 176.6L1027.6 179.0L1027.8 182.5L1028.0 186.7L1028.4 195.7L1028.6 200.0L1028.8 204.0L1029.0 207.6L1029.2 210.8L1029.4 213.6L1029.6 216.0L1029.8 218.2L1030.0 220.1L1030.2 221.7L1030.4 223.2L1030.6 224.4L1030.8 225.6L1031.2 227.5L1031.6 229.0L1032.2 230.7L1032.8 232.1L1033.6 233.4L1034.6 234.6L1036.0 235.7L1037.8 236.7L1040.6 237.7L1044.8 238.5L1051.4 239.3L1062.4 240.0L1082.0 240.5L1121.8 241.0L1140.0 241.0" fill="none" stroke="#ffa500" stroke-width="3.3" stroke-linejoin="round"/>
<path clip-path="url(#cl)" d="M120.0 200.3L127.9 200.0L131.3 199.5L133.2 198.9L134.4 198.2L135.1 197.5L135.8 196.5L136.3 195.5L136.8 194.3L137.5 192.0L138.0 190.5L138.2 189.9L138.5 189.4L138.7 189.3L139.0 189.4L139.2 189.8L139.4 190.3L140.4 193.2L140.9 194.5L141.4 195.4L142.1 196.3L142.8 196.8L143.5 196.9L144.2 196.6L145.0 196.0L145.4 195.2L145.9 194.2L146.6 192.3L147.1 190.9L147.4 190.4L147.6 190.1L147.8 190.0L148.1 190.1L148.3 190.5L148.8 191.8L149.5 194.0L150.0 195.3L150.5 196.3L151.2 197.4L152.2 198.3L153.4 199.0L155.3 199.6L158.9 200.0L167.8 200.3L185.3 200.3L190.8 200.0L193.2 199.6L194.6 199.0L195.6 198.3L196.3 197.5L197.0 196.3L198.0 194.4L198.2 194.0L198.5 193.8L198.7 193.7L199.0 193.8L199.2 194.0L199.7 194.9L200.6 196.8L201.4 197.8L202.1 198.6L203.3 199.3L205.2 199.8L209.0 200.2L221.0 200.4L232.1 200.3L234.7 200.0L236.6 199.4L237.6 199.1L238.6 199.4L240.5 200.0L243.6 200.3L260.9 200.4L277.9 200.2L281.3 199.9L283.0 199.5L284.6 198.6L285.4 198.5L286.6 199.1L288.0 199.7L290.2 200.1L296.4 200.3L308.9 200.1L312.7 199.8L314.4 199.4L315.6 198.7L316.8 197.9L317.5 197.8L318.5 198.2L319.7 198.8L321.1 199.0L322.6 198.8L323.8 198.3L324.7 197.5L325.4 196.4L326.2 195.0L327.1 192.5L327.4 192.1L327.6 191.8L327.8 191.7L328.1 191.8L328.3 192.1L328.8 193.1L329.8 195.5L330.5 196.8L331.2 197.7L332.2 198.4L333.6 199.0L336.0 199.4L340.1 199.5L344.2 199.1L346.8 198.5L348.5 197.8L349.7 196.9L350.6 195.9L351.4 194.9L352.1 193.4L352.6 192.1L353.0 190.4L353.3 189.4L353.5 188.2L353.8 186.8L354.0 185.3L354.2 183.5L354.5 181.5L354.7 179.3L355.0 176.8L355.2 174.1L355.7 168.4L355.9 165.8L356.2 163.7L356.4 162.2L356.6 161.7L356.9 162.2L357.1 163.6L357.4 165.7L357.6 168.3L358.1 173.8L358.3 176.5L358.6 178.9L358.8 181.1L359.0 183.0L359.3 184.7L359.5 186.2L359.8 187.5L360.0 188.6L360.2 189.6L360.7 191.1L361.2 192.3L361.7 193.1L362.4 193.9L363.1 194.2L363.8 194.1L364.6 193.6L365.0 193.0L365.5 192.0L366.0 190.7L366.5 188.9L367.4 184.6L367.7 183.7L367.9 183.1L368.2 182.8L368.4 182.9L368.6 183.2L368.9 183.8L369.6 186.1L369.8 186.7L370.1 187.2L370.3 187.6L370.8 187.9L371.5 187.9L371.8 188.0L372.0 188.3L372.2 188.7L372.7 189.9L373.7 193.0L374.2 194.2L374.9 195.7L375.6 196.6L376.6 197.5L378.0 198.2L379.9 198.7L382.3 198.8L384.2 198.5L385.4 198.0L386.4 197.2L387.1 196.2L387.8 194.8L388.8 192.5L389.0 192.1L389.3 191.8L389.5 191.7L389.8 191.7L390.0 192.0L390.5 193.0L391.4 195.2L392.2 196.4L392.9 197.1L393.6 197.4L394.6 197.4L395.8 197.1L396.5 197.3L398.4 198.6L399.8 199.1L402.2 199.4L405.4 199.2L407.5 198.8L409.0 198.2L409.9 197.5L410.6 196.8L411.4 195.6L411.8 194.5L412.3 193.1L412.8 191.2L413.8 187.1L414.0 186.3L414.2 185.7L414.5 185.5L414.7 185.7L415.0 186.3L415.2 187.1L416.2 191.2L416.6 193.0L417.1 194.5L417.6 195.5L418.3 196.7L419.0 197.5L420.2 198.3L421.9 198.8L424.3 199.1L426.5 198.9L428.2 198.4L429.1 197.8L429.8 197.1L430.6 196.1L431.3 194.5L432.2 191.9L432.5 191.4L432.7 191.1L433.0 191.0L433.2 191.1L433.4 191.4L433.9 192.5L434.9 195.1L435.6 196.5L436.3 197.5L437.3 198.2L438.7 198.9L440.9 199.3L444.0 199.3L446.6 199.0L448.3 198.5L449.5 197.8L450.2 197.2L451.0 196.2L451.7 194.7L452.9 191.4L453.1 190.8L453.4 190.4L453.6 190.3L453.8 190.4L454.1 190.7L454.6 191.7L455.3 193.4L455.8 194.4L456.2 195.1L457.0 195.6L457.7 195.7L458.4 195.3L458.9 194.7L459.4 193.9L459.8 192.7L460.3 191.2L461.3 187.5L461.5 186.8L461.8 186.4L462.0 186.2L462.2 186.4L462.5 186.9L462.7 187.7L463.7 191.5L464.2 193.1L464.6 194.4L465.1 195.3L465.8 196.4L466.6 197.0L467.5 197.5L468.7 197.7L469.9 197.5L470.9 196.9L471.6 196.1L472.3 194.9L473.0 193.2L473.8 191.3L474.0 190.8L474.2 190.4L474.5 190.3L474.7 190.4L475.0 190.7L475.4 191.7L476.2 193.4L476.6 194.3L477.1 195.0L477.6 195.4L478.3 195.5L478.8 195.3L479.3 194.8L479.8 194.1L480.2 193.0L481.2 190.5L481.4 190.0L481.7 189.7L481.9 189.6L482.2 189.8L482.4 190.2L482.9 191.4L483.6 193.6L484.1 194.9L484.6 195.8L485.3 196.9L486.2 197.8L487.4 198.4L489.1 198.8L490.8 198.7L492.5 198.4L495.1 198.8L496.8 198.6L498.2 198.1L499.2 197.5L499.9 196.6L500.6 195.4L501.1 194.3L501.8 192.2L502.3 190.7L502.6 190.1L502.8 189.8L503.0 189.6L503.3 189.7L503.5 190.1L503.8 190.6L505.0 194.1L505.4 195.2L506.2 196.3L506.9 197.0L507.8 197.5L509.0 197.6L510.0 197.3L511.0 196.6L511.7 195.8L512.2 194.9L512.6 193.8L513.1 192.3L513.6 190.5L514.3 187.6L514.6 186.9L514.8 186.4L515.0 186.2L515.3 186.4L515.5 186.9L515.8 187.7L516.7 191.6L517.2 193.3L517.7 194.6L518.2 195.6L518.9 196.7L519.6 197.4L520.8 198.2L522.2 198.6L523.9 198.6L525.1 198.3L526.6 197.5L527.3 197.1L528.0 197.1L529.4 197.7L530.4 197.7L531.1 197.4L531.8 196.8L533.3 195.0L533.8 194.7L534.2 194.7L535.4 195.3L536.2 195.2L537.1 194.7L537.6 194.7L538.1 195.1L539.5 197.1L540.5 198.0L541.7 198.7L543.6 199.1L546.2 199.2L548.2 198.9L550.1 198.4L553.0 198.8L555.1 198.6L557.0 198.0L558.2 197.3L559.2 196.5L559.9 195.5L560.6 194.1L561.1 192.9L561.6 191.2L561.8 190.2L562.1 189.1L562.3 187.8L562.8 184.8L563.3 181.6L563.5 180.1L563.8 178.9L564.0 178.0L564.2 177.7L564.5 177.9L564.7 178.7L565.0 179.9L565.4 182.8L565.9 185.8L566.2 187.1L566.4 188.3L566.6 189.4L566.9 190.3L567.4 191.7L567.8 192.8L568.3 193.5L569.0 194.1L569.8 194.2L570.5 193.9L571.2 193.2L571.7 192.4L572.2 191.3L572.4 190.5L572.6 189.7L572.9 188.7L573.1 187.6L573.4 186.3L573.6 184.8L573.8 183.2L574.6 177.7L574.8 176.0L575.0 174.6L575.3 173.6L575.5 173.3L575.8 173.6L576.0 174.6L576.2 176.0L576.5 177.7L577.0 181.4L577.2 183.2L577.4 184.8L577.7 186.3L577.9 187.6L578.2 188.7L578.4 189.6L578.6 190.5L579.1 191.8L579.6 192.7L580.1 193.3L580.6 193.6L581.0 193.6L581.5 193.4L582.0 193.0L582.5 192.2L583.4 190.3L583.7 189.9L583.9 189.7L584.2 189.6L584.4 189.8L584.6 190.1L585.1 191.2L586.1 193.6L586.8 195.0L587.5 195.8L588.5 196.5L589.7 196.9L591.1 196.9L592.6 196.5L593.8 195.9L595.0 194.9L595.7 194.1L596.4 192.9L596.9 191.8L597.4 190.5L597.8 188.9L598.1 187.9L598.3 186.8L598.6 185.5L598.8 184.1L599.0 182.4L599.3 180.6L599.5 178.4L599.8 176.0L600.0 173.3L600.2 170.3L600.5 167.0L601.0 160.0L601.2 156.6L601.4 153.7L601.7 151.5L601.9 150.2L602.2 149.8L602.4 150.3L602.6 151.4L603.1 154.3L603.4 155.6L603.6 156.5L603.8 157.0L604.1 157.0L604.3 156.7L604.8 155.4L605.0 154.9L605.3 154.9L605.5 155.6L605.8 157.0L606.0 159.1L606.2 161.8L607.0 170.8L607.2 173.7L607.4 176.3L607.7 178.6L607.9 180.7L608.2 182.5L608.4 184.2L608.6 185.6L608.9 186.8L609.1 187.9L609.6 189.7L610.1 191.1L610.6 192.2L611.3 193.4L612.0 194.1L612.7 194.5L613.4 194.6L614.2 194.3L614.9 193.6L615.8 192.5L616.1 192.3L616.3 192.3L616.6 192.5L617.0 193.1L618.2 195.2L619.0 196.2L619.7 196.8L620.6 197.1L621.6 197.2L622.6 196.8L623.3 196.2L624.5 194.9L625.0 194.7L625.4 195.0L627.1 197.2L628.1 198.0L629.3 198.6L631.4 199.1L635.5 199.4L641.5 199.4L645.8 199.0L648.2 198.4L649.9 197.6L651.1 196.7L651.8 195.8L652.6 194.5L653.0 193.4L653.5 191.9L654.0 190.2L654.7 187.1L655.0 186.2L655.2 185.5L655.4 184.9L655.7 184.6L655.9 184.5L656.9 184.9L657.1 184.8L657.4 184.6L657.6 184.2L658.1 183.0L658.6 181.6L658.8 181.1L659.0 180.8L659.3 180.8L659.5 181.2L659.8 181.8L660.0 182.7L660.7 185.7L661.2 187.4L661.4 188.0L661.7 188.5L661.9 188.9L662.2 189.2L662.4 189.3L662.6 189.3L662.9 189.2L663.1 188.9L663.4 188.6L663.6 188.1L663.8 187.5L664.1 186.7L664.3 185.7L664.6 184.5L664.8 183.2L665.0 181.5L665.3 179.7L665.5 177.5L665.8 175.1L666.0 172.5L666.5 166.8L666.7 164.2L667.0 161.9L667.2 160.3L667.4 159.7L667.7 160.1L667.9 161.4L668.2 163.5L668.4 166.2L668.9 172.1L669.1 175.0L669.4 177.6L669.6 180.0L669.8 182.2L670.1 184.1L670.3 185.7L670.6 187.2L670.8 188.5L671.0 189.6L671.5 191.4L672.0 192.8L672.5 193.9L673.2 195.2L674.2 196.4L675.4 197.4L677.0 198.3L679.4 198.9L683.5 199.5L691.2 200.0L709.0 200.2L721.7 200.1L725.3 199.8L727.0 199.3L728.2 198.7L729.6 197.6L730.1 197.4L730.8 197.7L732.2 198.7L733.4 199.1L734.9 199.2L736.8 199.2L739.4 199.4L742.1 199.2L744.2 198.7L745.7 198.0L746.6 197.2L747.4 196.4L748.1 195.1L748.6 194.0L749.0 192.5L749.3 191.6L749.5 190.6L749.8 189.4L750.0 188.1L750.2 186.6L750.7 183.3L751.2 179.8L751.4 178.4L751.7 177.3L751.9 176.7L752.2 176.8L752.4 177.5L752.6 178.6L752.9 180.1L753.6 185.3L753.8 186.9L754.1 188.4L754.3 189.7L754.6 190.8L754.8 191.9L755.3 193.5L755.8 194.8L756.5 196.1L757.2 197.1L758.2 197.9L759.6 198.7L761.8 199.4L765.6 199.9L774.0 200.2L806.4 200.4L840.0 200.4" fill="none" stroke="#00ff00" stroke-width="3.3" stroke-linejoin="round"/>
<path clip-path="url(#cr)" d="M900.0 199.7L918.0 199.1L928.6 198.4L935.2 197.5L939.6 196.6L942.6 195.6L944.6 194.6L946.2 193.4L947.2 192.3L948.0 191.2L948.6 190.0L949.2 188.6L950.0 186.2L951.0 183.0L951.4 181.3L951.6 180.4L951.8 179.2L952.0 177.8L952.2 176.2L952.4 174.3L952.6 172.1L952.8 169.4L953.0 166.3L953.2 162.6L953.4 158.1L953.6 153.0L953.8 147.2L954.0 140.6L954.2 133.5L954.4 126.1L954.6 118.8L954.8 112.0L955.0 106.1L955.2 100.9L955.4 96.1L955.6 91.7L955.8 87.8L956.0 84.8L956.2 83.3L956.4 84.1L956.6 87.5L956.8 93.1L957.0 100.1L957.4 114.9L957.6 121.7L957.8 127.6L958.0 132.3L958.2 135.9L958.4 138.3L958.6 139.5L958.8 139.6L959.0 138.6L959.2 136.5L959.4 133.3L959.6 128.7L959.8 122.7L960.0 115.0L960.2 105.5L960.4 94.1L960.6 80.9L960.8 66.5L961.0 51.7L961.2 37.6L961.4 25.2L961.6 15.0L962.4 15.0L962.6 19.5L962.8 30.6L963.0 43.6L963.4 71.9L963.6 85.2L963.8 97.2L964.0 107.7L964.2 116.7L964.4 124.1L964.6 130.3L964.8 135.2L965.0 139.1L965.2 142.1L965.4 144.3L965.6 145.9L965.8 146.8L966.0 147.2L966.2 146.9L966.4 146.1L966.6 144.7L966.8 142.6L967.0 139.8L967.2 136.1L967.4 131.6L967.6 126.1L967.8 119.7L968.0 112.5L968.2 104.7L968.4 96.8L968.6 89.2L968.8 81.9L969.0 75.5L969.2 70.4L969.4 66.7L969.6 64.8L969.8 64.6L970.0 66.2L970.2 69.5L970.4 74.1L970.6 79.7L970.8 85.9L971.0 92.4L971.2 98.6L971.4 104.2L971.6 109.0L971.8 112.7L972.0 115.2L972.2 116.7L972.4 117.0L972.6 116.3L972.8 114.5L973.0 111.7L973.2 107.8L973.4 102.8L973.6 96.8L973.8 89.8L974.0 82.0L974.2 73.6L974.6 55.9L974.8 47.4L975.0 39.6L975.2 32.4L975.4 25.9L975.6 20.1L975.8 15.0L998.4 15.0L998.6 19.6L998.8 25.3L999.0 31.7L999.2 38.8L999.4 46.3L999.6 54.2L1000.0 70.0L1000.2 77.7L1000.4 84.9L1000.6 91.7L1000.8 97.9L1001.0 103.8L1001.2 109.2L1001.4 114.5L1001.6 119.5L1002.0 129.2L1002.2 134.0L1002.4 138.6L1002.6 142.9L1002.8 147.0L1003.0 150.6L1003.2 153.8L1003.4 156.7L1003.6 159.2L1003.8 161.5L1004.0 163.5L1004.2 165.3L1004.4 166.9L1004.6 168.4L1005.0 171.1L1005.4 173.3L1005.8 175.3L1006.4 177.7L1007.0 179.8L1007.8 182.1L1008.6 183.9L1009.6 185.8L1010.8 187.6L1012.2 189.3L1013.8 190.8L1015.8 192.2L1018.2 193.3L1020.8 194.1L1023.0 194.4L1024.8 194.2L1026.0 193.7L1027.0 192.9L1027.8 191.9L1028.4 190.7L1028.8 189.7L1029.2 188.3L1029.4 187.5L1029.6 186.5L1029.8 185.4L1030.0 184.2L1030.2 182.7L1030.4 181.1L1030.6 179.4L1031.0 175.3L1031.4 171.2L1031.6 169.5L1031.8 168.1L1032.0 167.2L1032.2 167.0L1032.4 167.2L1032.6 167.7L1033.0 169.2L1033.2 169.8L1033.4 170.1L1033.6 170.1L1033.8 169.7L1034.0 168.9L1034.2 167.7L1034.4 166.2L1035.0 160.8L1035.2 159.3L1035.4 158.5L1035.6 158.5L1035.8 159.4L1036.0 161.0L1036.2 163.4L1036.4 166.1L1036.8 171.8L1037.0 174.5L1037.2 177.0L1037.4 179.3L1037.6 181.3L1037.8 183.0L1038.0 184.6L1038.2 185.9L1038.4 187.1L1038.6 188.1L1039.0 189.9L1039.4 191.2L1040.0 192.8L1040.6 193.9L1041.4 195.0L1042.4 195.9L1043.8 196.8L1046.0 197.6L1049.6 198.3L1056.0 199.0L1068.6 199.5L1095.0 200.0L1140.0 200.2" fill="none" stroke="#00ff00" stroke-width="3.3" stroke-linejoin="round"/>
<path clip-path="url(#cl)" d="M120.0 159.7L173.0 159.6L177.8 159.3L179.8 158.9L181.2 158.2L182.2 157.7L182.9 157.8L184.8 158.8L186.5 159.3L190.3 159.5L209.8 159.6L219.1 159.4L222.2 159.0L223.9 158.5L224.9 157.9L225.6 157.1L227.0 155.2L227.5 154.9L228.0 155.2L229.0 156.5L229.9 157.6L230.9 158.4L232.3 158.9L235.0 159.3L242.2 159.6L304.8 159.6L318.7 159.4L322.1 159.1L323.8 158.7L325.0 158.0L326.4 156.8L326.9 156.6L327.4 156.8L329.3 158.3L330.7 158.9L333.1 159.2L337.9 159.2L341.5 159.0L343.4 158.5L344.6 157.9L345.6 157.1L346.3 156.2L347.0 154.8L348.0 152.5L348.2 152.0L348.5 151.7L348.7 151.5L349.0 151.6L349.2 151.9L349.7 152.8L350.6 155.1L351.4 156.4L352.1 157.3L353.0 158.0L354.5 158.6L356.9 159.0L360.5 159.0L362.9 158.7L364.3 158.2L365.3 157.6L366.0 156.8L367.4 154.6L367.9 154.3L368.2 154.3L368.6 154.7L370.1 156.9L370.8 157.6L371.8 158.3L373.2 158.8L376.1 159.2L382.8 159.4L388.6 159.2L391.0 158.8L392.2 158.3L393.1 157.6L394.6 156.1L395.0 156.0L395.5 156.1L397.2 157.8L398.4 158.5L400.1 158.9L403.0 159.0L406.1 158.8L407.8 158.3L409.0 157.7L409.7 157.1L410.4 156.1L411.1 154.7L412.1 152.4L412.3 151.9L412.6 151.6L412.8 151.5L413.0 151.6L413.3 151.9L413.8 152.9L414.7 155.2L415.4 156.5L416.2 157.3L417.1 158.0L418.6 158.6L421.2 159.1L425.5 159.2L428.2 159.1L430.8 158.3L431.8 158.5L433.9 159.1L437.0 159.4L448.8 159.5L454.3 159.3L456.5 158.9L458.6 158.0L459.4 158.0L461.3 158.7L462.7 158.7L464.2 158.4L465.8 157.7L466.6 157.7L468.7 158.7L470.6 159.1L473.3 159.0L475.2 158.6L477.4 157.7L478.1 157.7L480.0 158.5L481.4 158.6L482.9 158.3L484.6 157.7L485.3 157.8L487.4 158.8L489.6 159.2L495.1 159.4L503.3 159.2L506.4 158.8L508.1 158.3L509.3 157.5L510.7 156.1L511.2 155.9L511.7 156.1L513.4 157.5L514.3 157.9L515.5 158.1L516.7 157.9L517.7 157.5L518.6 156.7L519.6 155.5L520.3 154.5L520.8 154.2L521.3 154.4L522.7 156.1L523.4 156.7L524.2 156.9L525.1 156.8L525.8 156.5L526.6 155.7L527.3 154.6L528.0 152.9L528.5 151.8L528.7 151.3L529.0 151.0L529.2 150.9L529.4 150.9L529.7 151.2L530.2 152.2L531.1 154.6L531.8 156.0L532.6 156.9L533.5 157.6L535.0 158.3L537.4 158.7L541.9 158.9L548.4 158.7L552.5 158.3L554.9 157.6L556.3 156.9L557.5 156.0L558.2 155.1L559.0 153.8L559.4 152.7L559.9 151.2L560.2 150.2L560.4 149.2L560.6 148.1L561.1 145.4L561.6 142.5L561.8 141.1L562.1 140.0L562.3 139.2L562.6 138.9L562.8 139.0L563.0 139.7L563.3 140.6L563.8 143.1L564.2 145.6L564.5 146.7L564.7 147.7L565.0 148.5L565.2 149.1L565.4 149.7L565.9 150.4L566.4 150.8L566.9 150.7L567.4 150.2L567.8 149.4L568.1 148.7L568.3 148.0L568.6 147.1L568.8 146.0L569.0 144.9L569.5 142.2L570.0 139.5L570.2 138.4L570.5 137.6L570.7 137.2L571.0 137.4L571.2 137.9L571.4 138.7L572.2 142.0L572.4 142.9L572.6 143.7L572.9 144.3L573.1 144.7L573.4 144.9L573.6 144.9L573.8 144.7L574.1 144.3L574.6 143.1L575.0 141.7L575.3 141.2L575.5 140.9L575.8 141.0L576.0 141.4L576.2 142.2L576.5 143.2L577.4 148.0L577.9 150.1L578.4 151.7L578.9 153.0L579.4 153.9L580.1 155.0L581.0 155.9L582.2 156.7L583.9 157.2L586.3 157.5L589.2 157.3L591.6 156.8L593.3 156.1L594.5 155.2L595.4 154.2L596.2 153.2L596.9 151.8L597.4 150.6L597.8 149.0L598.1 148.1L598.3 147.0L598.6 145.8L598.8 144.5L599.0 142.9L599.3 141.1L599.5 139.1L599.8 136.8L600.0 134.2L600.2 131.3L600.5 128.2L601.0 121.4L601.2 118.2L601.4 115.3L601.7 113.1L601.9 111.7L602.2 111.1L602.4 111.4L602.6 112.3L602.9 113.5L603.8 119.1L604.1 120.6L604.3 122.3L604.6 124.3L604.8 126.5L605.5 133.7L605.8 135.9L606.0 138.0L606.2 139.8L606.5 141.4L606.7 142.9L607.0 144.1L607.2 145.1L607.4 146.0L607.7 146.7L607.9 147.3L608.2 147.7L608.6 148.2L609.1 148.3L609.6 148.0L610.6 146.9L610.8 146.8L611.0 146.8L611.3 146.9L611.8 147.7L612.5 149.0L613.0 149.7L613.4 150.0L613.9 149.9L614.4 149.3L614.6 148.8L615.1 147.5L616.1 144.1L616.3 143.4L616.6 143.0L616.8 143.0L617.0 143.2L617.3 143.9L617.5 144.7L618.5 149.1L619.0 150.9L619.4 152.4L619.9 153.6L620.6 154.8L621.4 155.7L622.3 156.5L623.8 157.2L625.9 157.7L629.3 158.0L633.1 157.8L635.8 157.4L637.4 156.8L638.6 156.0L639.6 155.0L640.3 153.9L640.8 152.9L641.3 151.6L641.8 149.9L642.0 148.9L642.2 147.7L642.7 145.0L643.2 142.1L643.4 140.8L643.7 139.6L643.9 138.9L644.2 138.6L644.4 138.8L644.6 139.5L644.9 140.5L645.4 143.2L645.8 145.9L646.1 147.1L646.3 148.2L646.6 149.1L647.0 150.7L647.5 151.8L648.0 152.6L648.7 153.4L649.4 153.8L650.4 153.9L651.4 153.6L652.1 153.0L652.8 152.2L653.5 151.0L654.0 149.8L654.5 148.4L654.7 147.5L655.0 146.5L655.2 145.4L655.4 144.1L655.7 142.7L655.9 141.0L656.2 139.0L656.4 136.8L656.6 134.3L656.9 131.5L657.1 128.4L657.4 125.1L657.8 118.2L658.1 115.1L658.3 112.6L658.6 110.9L658.8 110.4L659.0 111.1L659.3 112.8L659.5 115.3L659.8 118.3L660.2 124.6L660.5 127.5L660.7 130.1L661.0 132.4L661.2 134.4L661.4 136.0L661.7 137.4L661.9 138.5L662.2 139.3L662.4 139.9L662.6 140.3L662.9 140.5L663.1 140.5L663.4 140.3L663.6 139.9L663.8 139.3L664.1 138.4L664.3 137.4L664.6 136.0L664.8 134.4L665.0 132.4L665.3 130.1L665.5 127.5L665.8 124.5L666.0 121.2L666.7 110.4L667.0 107.3L667.2 105.0L667.4 103.6L667.7 103.3L667.9 104.1L668.2 105.6L668.4 107.7L668.9 111.9L669.1 113.7L669.4 115.1L669.6 116.2L669.8 116.9L670.3 118.3L670.6 119.2L670.8 120.5L671.0 122.3L671.3 124.5L671.5 127.0L672.0 132.2L672.2 134.7L672.5 137.1L672.7 139.2L673.0 141.1L673.2 142.8L673.4 144.3L673.7 145.6L673.9 146.8L674.4 148.8L674.9 150.3L675.4 151.6L676.1 153.0L676.8 154.1L677.8 155.1L679.2 156.2L681.1 157.1L684.0 157.9L688.6 158.6L696.7 159.1L715.0 159.4L781.9 159.6L840.0 159.6" fill="none" stroke="#a0522d" stroke-width="3.3" stroke-linejoin="round"/>
<path clip-path="url(#cr)" d="M900.0 158.9L918.6 158.4L929.2 157.7L935.6 156.9L939.6 156.1L942.4 155.1L944.2 154.2L945.6 153.0L946.6 151.9L947.4 150.6L948.0 149.4L948.6 147.7L949.0 146.2L949.4 144.5L949.8 142.5L950.2 140.2L950.6 137.7L950.8 136.2L951.0 134.6L951.2 132.8L951.4 130.8L951.6 128.4L951.8 125.6L952.0 122.3L952.2 118.7L952.4 114.5L952.6 110.0L952.8 105.0L953.2 94.7L953.4 89.7L953.6 85.0L953.8 81.0L954.0 78.0L954.2 76.1L954.4 75.5L954.6 76.0L954.8 77.8L955.0 80.7L955.2 84.6L955.4 89.1L955.6 94.1L956.0 104.3L956.2 109.2L956.4 113.7L956.6 117.8L956.8 121.3L957.0 124.4L957.2 127.1L957.4 129.3L957.6 131.2L957.8 132.8L958.0 134.2L958.2 135.4L958.4 136.3L958.6 137.1L958.8 137.7L959.2 138.6L959.6 139.1L960.0 139.2L960.4 138.9L960.8 138.3L961.2 137.3L961.4 136.6L961.6 135.8L961.8 134.8L962.2 132.5L962.6 130.2L962.8 129.2L963.0 128.5L963.6 126.8L963.8 126.0L964.0 124.9L964.2 123.6L964.4 122.0L964.6 120.0L964.8 117.7L965.0 114.9L965.2 111.7L965.4 107.9L965.6 103.4L965.8 98.3L966.0 92.3L966.2 85.7L966.4 78.6L966.8 63.9L967.0 56.6L967.2 49.3L967.4 41.4L967.6 32.7L967.8 23.2L968.0 15.0L970.0 15.0L970.2 21.3L970.4 30.3L970.6 38.6L970.8 45.8L971.0 51.9L971.2 56.8L971.4 60.5L971.6 63.1L971.8 64.6L972.0 65.1L972.2 64.6L972.4 63.1L972.6 60.7L972.8 57.4L973.0 53.3L973.2 48.4L973.4 42.9L973.6 36.8L973.8 30.4L974.2 17.1L974.4 15.0L981.8 15.0L982.0 20.8L982.2 29.5L982.4 38.5L982.6 47.1L982.8 54.8L983.0 61.4L983.2 66.8L983.4 71.1L983.6 74.2L983.8 76.3L984.0 77.5L984.2 77.8L984.4 77.3L984.6 76.0L984.8 73.8L985.0 70.6L985.2 66.4L985.4 61.2L985.6 54.8L985.8 47.2L986.0 38.5L986.2 29.0L986.4 19.0L986.6 15.0L999.6 15.0L999.8 17.9L1000.0 23.7L1000.2 29.1L1000.4 34.2L1001.0 48.7L1001.2 53.8L1001.4 59.2L1001.8 70.2L1002.0 75.5L1002.2 80.4L1002.4 84.9L1002.6 88.9L1002.8 92.6L1003.0 96.0L1003.2 99.0L1003.4 101.8L1003.6 104.4L1003.8 106.8L1004.0 109.0L1004.2 111.1L1004.6 114.9L1005.0 118.3L1005.4 121.3L1005.8 124.0L1006.2 126.4L1006.8 129.6L1007.4 132.4L1008.0 134.9L1008.6 137.0L1009.4 139.4L1010.2 141.5L1011.2 143.7L1012.4 145.8L1013.8 147.8L1015.4 149.6L1017.2 151.1L1019.4 152.6L1022.2 153.9L1025.8 155.2L1030.6 156.3L1037.2 157.2L1046.8 158.0L1061.8 158.7L1088.8 159.2L1140.0 159.5" fill="none" stroke="#a0522d" stroke-width="3.3" stroke-linejoin="round"/>
<text x="140.0" y="393.75" font-size="24.6" textLength="50.0" lengthAdjust="spacingAndGlyphs" style="fill:#000000">Pery</text>
<text x="140.0" y="353.05" font-size="24.6" textLength="110.0" lengthAdjust="spacingAndGlyphs" style="fill:#ff0000">Pery<tspan dy="-4.6">_</tspan><tspan dy="4.6">MM1</tspan></text>
<text x="140.0" y="312.35" font-size="24.6" textLength="95.0" lengthAdjust="spacingAndGlyphs" style="fill:#a020f0">Pery12H</text>
<text x="140.0" y="271.65" font-size="24.6" textLength="153.7" lengthAdjust="spacingAndGlyphs" style="fill:#0000ff">Pery12H<tspan dy="-4.6">_</tspan><tspan dy="4.6">RG1</tspan></text>
<text x="140.0" y="230.95" font-size="24.6" textLength="153.7" lengthAdjust="spacingAndGlyphs" style="fill:#ffa500">Pery12H<tspan dy="-4.6">_</tspan><tspan dy="4.6">RG2</tspan></text>
<text x="140.0" y="190.25" font-size="24.6" textLength="108.7" lengthAdjust="spacingAndGlyphs" style="fill:#00ff00">Pery12Hb</text>
<text x="140.0" y="149.55" font-size="24.6" textLength="141.2" lengthAdjust="spacingAndGlyphs" style="fill:#a0522d">Pery14H<tspan dy="-4.6">_</tspan><tspan dy="4.6">Yal</tspan></text>
<text x="113.30" y="413.20" font-size="25.8" text-anchor="end" textLength="13.5" lengthAdjust="spacingAndGlyphs">0</text>
<text x="113.30" y="345.20" font-size="25.8" text-anchor="end" textLength="27.0" lengthAdjust="spacingAndGlyphs">10</text>
<text x="113.30" y="277.20" font-size="25.8" text-anchor="end" textLength="27.0" lengthAdjust="spacingAndGlyphs">20</text>
<text x="113.30" y="209.20" font-size="25.8" text-anchor="end" textLength="27.0" lengthAdjust="spacingAndGlyphs">30</text>
<text x="113.30" y="141.20" font-size="25.8" text-anchor="end" textLength="27.0" lengthAdjust="spacingAndGlyphs">40</text>
<text x="113.30" y="73.20" font-size="25.8" text-anchor="end" textLength="27.0" lengthAdjust="spacingAndGlyphs">50</text>
<text x="168.00" y="456.50" font-size="25.8" text-anchor="middle" textLength="40.5" lengthAdjust="spacingAndGlyphs">400</text>
<text x="264.00" y="456.50" font-size="25.8" text-anchor="middle" textLength="40.5" lengthAdjust="spacingAndGlyphs">600</text>
<text x="360.00" y="456.50" font-size="25.8" text-anchor="middle" textLength="40.5" lengthAdjust="spacingAndGlyphs">800</text>
<text x="456.00" y="456.50" font-size="25.8" text-anchor="middle" textLength="54.0" lengthAdjust="spacingAndGlyphs">1000</text>
<text x="552.00" y="456.50" font-size="25.8" text-anchor="middle" textLength="54.0" lengthAdjust="spacingAndGlyphs">1200</text>
<text x="648.00" y="456.50" font-size="25.8" text-anchor="middle" textLength="54.0" lengthAdjust="spacingAndGlyphs">1400</text>
<text x="744.00" y="456.50" font-size="25.8" text-anchor="middle" textLength="54.0" lengthAdjust="spacingAndGlyphs">1600</text>
<text x="840.00" y="456.50" font-size="25.8" text-anchor="middle" textLength="54.0" lengthAdjust="spacingAndGlyphs">1800</text>
<text x="900.00" y="456.50" font-size="25.8" text-anchor="middle" textLength="54.0" lengthAdjust="spacingAndGlyphs">2700</text>
<text x="1020.00" y="456.50" font-size="25.8" text-anchor="middle" textLength="54.0" lengthAdjust="spacingAndGlyphs">3000</text>
<text x="1140.00" y="456.50" font-size="25.8" text-anchor="middle" textLength="54.0" lengthAdjust="spacingAndGlyphs">3300</text>
<text x="780.6" y="65.3" font-size="27" textLength="30.6" lengthAdjust="spacingAndGlyphs">(a)</text>
<text class="ser" x="360.2" y="490" font-size="25.6" letter-spacing="0.72">Wavenumber (cm<tspan font-size="13.5" dy="-11.5" letter-spacing="-0.5">−1</tspan><tspan dy="11.5">)</tspan></text>
<text class="ser" x="918.6" y="490" font-size="25.6" letter-spacing="0.72">Wavenumber (cm<tspan font-size="13.5" dy="-11.5" letter-spacing="-0.5">−1</tspan><tspan dy="11.5">)</tspan></text>
<text class="ser" transform="translate(60 300.5) rotate(-90)" font-size="25.6" letter-spacing="0.15"><tspan font-size="38" font-weight="bold">ε</tspan> (mol<tspan font-size="13.5" dy="-11.5" letter-spacing="-0.5">−1</tspan><tspan dy="11.5">cm</tspan><tspan font-size="13.5" dy="-11.5" letter-spacing="-0.5">−1</tspan><tspan dy="11.5">)</tspan></text>
</svg></div></body></html>
